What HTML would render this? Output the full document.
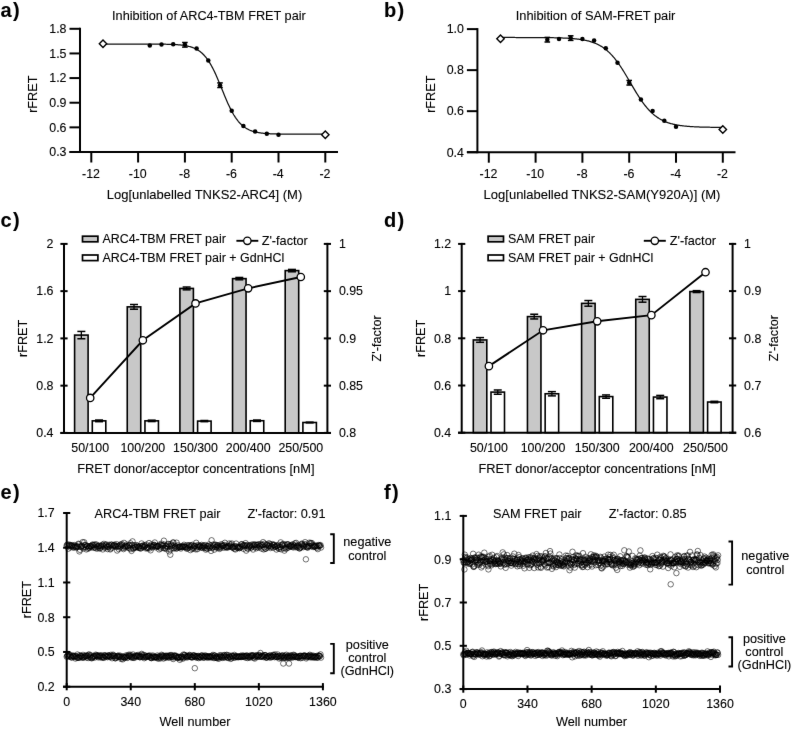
<!DOCTYPE html>
<html><head><meta charset="utf-8"><title>FRET figure</title>
<style>
html,body{margin:0;padding:0;background:#fff;}
body{width:792px;height:730px;overflow:hidden;}
svg{display:block;will-change:transform;font-family:"Liberation Sans",sans-serif;fill:#000;}
svg text{fill:#000;stroke:#000;stroke-width:0.1px;}
</style></head>
<body>
<svg width="792" height="730" viewBox="0 0 792 730">
<defs><filter id="bl" color-interpolation-filters="sRGB" x="0" y="0" width="792" height="730" filterUnits="userSpaceOnUse"><feConvolveMatrix order="3" kernelMatrix="0.0028 0.0470 0.0028 0.0470 0.8008 0.0470 0.0028 0.0470 0.0028" edgeMode="duplicate"/></filter></defs>
<g filter="url(#bl)">
<rect width="792" height="730" fill="#fff"/>
<text x="0.6" y="16.6" font-size="20" font-weight="bold" letter-spacing="1.3">a)</text>
<text x="384" y="16.6" font-size="20" font-weight="bold" letter-spacing="1.3">b)</text>
<text x="0.6" y="227.2" font-size="20" font-weight="bold" letter-spacing="1.3">c)</text>
<text x="384" y="227.2" font-size="20" font-weight="bold" letter-spacing="1.3">d)</text>
<text x="0.6" y="499.2" font-size="20" font-weight="bold" letter-spacing="1.3">e)</text>
<text x="384" y="499.2" font-size="20" font-weight="bold" letter-spacing="1.3">f)</text>
<line x1="80" y1="27.8" x2="80" y2="153" stroke="#000" stroke-width="2.0" />
<line x1="69.5" y1="28.8" x2="80" y2="28.8" stroke="#000" stroke-width="2.0" />
<text x="66.5" y="33.1" font-size="12.4" text-anchor="end" >1.8</text>
<line x1="69.5" y1="53.44" x2="80" y2="53.44" stroke="#000" stroke-width="2.0" />
<text x="66.5" y="57.74" font-size="12.4" text-anchor="end" >1.5</text>
<line x1="69.5" y1="78.08" x2="80" y2="78.08" stroke="#000" stroke-width="2.0" />
<text x="66.5" y="82.38" font-size="12.4" text-anchor="end" >1.2</text>
<line x1="69.5" y1="102.72" x2="80" y2="102.72" stroke="#000" stroke-width="2.0" />
<text x="66.5" y="107.02" font-size="12.4" text-anchor="end" >0.9</text>
<line x1="69.5" y1="127.36" x2="80" y2="127.36" stroke="#000" stroke-width="2.0" />
<text x="66.5" y="131.66" font-size="12.4" text-anchor="end" >0.6</text>
<line x1="69.5" y1="152" x2="80" y2="152" stroke="#000" stroke-width="2.0" />
<text x="66.5" y="156.3" font-size="12.4" text-anchor="end" >0.3</text>
<line x1="69.5" y1="152" x2="338" y2="152" stroke="#000" stroke-width="2.0" />
<line x1="91.3" y1="152" x2="91.3" y2="162.5" stroke="#000" stroke-width="2.0" />
<text x="91" y="177.8" font-size="12.4" text-anchor="middle" >-12</text>
<line x1="138.1" y1="152" x2="138.1" y2="162.5" stroke="#000" stroke-width="2.0" />
<text x="137.8" y="177.8" font-size="12.4" text-anchor="middle" >-10</text>
<line x1="184.9" y1="152" x2="184.9" y2="162.5" stroke="#000" stroke-width="2.0" />
<text x="184.6" y="177.8" font-size="12.4" text-anchor="middle" >-8</text>
<line x1="231.7" y1="152" x2="231.7" y2="162.5" stroke="#000" stroke-width="2.0" />
<text x="231.4" y="177.8" font-size="12.4" text-anchor="middle" >-6</text>
<line x1="278.5" y1="152" x2="278.5" y2="162.5" stroke="#000" stroke-width="2.0" />
<text x="278.2" y="177.8" font-size="12.4" text-anchor="middle" >-4</text>
<line x1="325.3" y1="152" x2="325.3" y2="162.5" stroke="#000" stroke-width="2.0" />
<text x="325" y="177.8" font-size="12.4" text-anchor="middle" >-2</text>
<text x="208.9" y="19.6" font-size="12.7" text-anchor="middle" >Inhibition of ARC4-TBM FRET pair</text>
<text x="204.5" y="198.6" font-size="13.0" text-anchor="middle" >Log[unlabelled TNKS2-ARC4] (M)</text>
<text transform="translate(36.8,94.2) rotate(-90)" font-size="12.7" text-anchor="middle">rFRET</text>
<polyline points="103.00,44.05 103.74,44.05 104.49,44.05 105.23,44.05 105.97,44.05 106.72,44.05 107.46,44.05 108.20,44.05 108.95,44.05 109.69,44.05 110.43,44.05 111.18,44.05 111.92,44.05 112.67,44.05 113.41,44.05 114.15,44.05 114.90,44.05 115.64,44.05 116.38,44.05 117.13,44.05 117.87,44.05 118.61,44.05 119.36,44.05 120.10,44.05 120.84,44.05 121.59,44.05 122.33,44.05 123.07,44.05 123.82,44.05 124.56,44.05 125.30,44.05 126.05,44.05 126.79,44.05 127.53,44.05 128.28,44.05 129.02,44.05 129.77,44.05 130.51,44.05 131.25,44.05 132.00,44.05 132.74,44.05 133.48,44.05 134.23,44.06 134.97,44.06 135.71,44.06 136.46,44.06 137.20,44.06 137.94,44.06 138.69,44.06 139.43,44.06 140.17,44.06 140.92,44.06 141.66,44.06 142.40,44.06 143.15,44.07 143.89,44.07 144.63,44.07 145.38,44.07 146.12,44.07 146.87,44.07 147.61,44.08 148.35,44.08 149.10,44.08 149.84,44.08 150.58,44.09 151.33,44.09 152.07,44.09 152.81,44.10 153.56,44.10 154.30,44.10 155.04,44.11 155.79,44.11 156.53,44.12 157.27,44.13 158.02,44.13 158.76,44.14 159.50,44.15 160.25,44.15 160.99,44.16 161.73,44.17 162.48,44.18 163.22,44.20 163.97,44.21 164.71,44.22 165.45,44.24 166.20,44.25 166.94,44.27 167.68,44.29 168.43,44.31 169.17,44.33 169.91,44.35 170.66,44.38 171.40,44.41 172.14,44.44 172.89,44.47 173.63,44.50 174.37,44.54 175.12,44.58 175.86,44.63 176.60,44.68 177.35,44.73 178.09,44.79 178.83,44.85 179.58,44.92 180.32,44.99 181.07,45.07 181.81,45.15 182.55,45.24 183.30,45.34 184.04,45.45 184.78,45.57 185.53,45.70 186.27,45.83 187.01,45.98 187.76,46.14 188.50,46.31 189.24,46.50 189.99,46.70 190.73,46.92 191.47,47.16 192.22,47.41 192.96,47.68 193.70,47.98 194.45,48.29 195.19,48.64 195.93,49.00 196.68,49.40 197.42,49.82 198.17,50.28 198.91,50.77 199.65,51.29 200.40,51.85 201.14,52.45 201.88,53.09 202.63,53.78 203.37,54.51 204.11,55.28 204.86,56.11 205.60,56.98 206.34,57.91 207.09,58.89 207.83,59.93 208.57,61.02 209.32,62.17 210.06,63.38 210.80,64.64 211.55,65.96 212.29,67.34 213.03,68.77 213.78,70.26 214.52,71.80 215.27,73.39 216.01,75.02 216.75,76.69 217.50,78.41 218.24,80.15 218.98,81.93 219.73,83.73 220.47,85.54 221.21,87.37 221.96,89.20 222.70,91.04 223.44,92.86 224.19,94.68 224.93,96.48 225.67,98.25 226.42,99.99 227.16,101.70 227.90,103.38 228.65,105.01 229.39,106.59 230.13,108.12 230.88,109.61 231.62,111.04 232.37,112.41 233.11,113.73 233.85,114.99 234.60,116.19 235.34,117.34 236.08,118.42 236.83,119.46 237.57,120.44 238.31,121.36 239.06,122.23 239.80,123.05 240.54,123.82 241.29,124.55 242.03,125.23 242.77,125.87 243.52,126.47 244.26,127.02 245.00,127.55 245.75,128.03 246.49,128.48 247.23,128.91 247.98,129.30 248.72,129.67 249.47,130.01 250.21,130.32 250.95,130.61 251.70,130.89 252.44,131.14 253.18,131.37 253.93,131.59 254.67,131.79 255.41,131.97 256.16,132.15 256.90,132.31 257.64,132.45 258.39,132.59 259.13,132.71 259.87,132.83 260.62,132.94 261.36,133.04 262.10,133.13 262.85,133.21 263.59,133.29 264.33,133.36 265.08,133.43 265.82,133.49 266.57,133.55 267.31,133.60 268.05,133.65 268.80,133.70 269.54,133.74 270.28,133.78 271.03,133.81 271.77,133.84 272.51,133.87 273.26,133.90 274.00,133.93 274.74,133.95 275.49,133.97 276.23,133.99 276.97,134.01 277.72,134.03 278.46,134.04 279.20,134.06 279.95,134.07 280.69,134.08 281.43,134.09 282.18,134.10 282.92,134.11 283.67,134.12 284.41,134.13 285.15,134.14 285.90,134.14 286.64,134.15 287.38,134.16 288.13,134.16 288.87,134.17 289.61,134.17 290.36,134.18 291.10,134.18 291.84,134.18 292.59,134.19 293.33,134.19 294.07,134.19 294.82,134.20 295.56,134.20 296.30,134.20 297.05,134.20 297.79,134.20 298.53,134.21 299.28,134.21 300.02,134.21 300.77,134.21 301.51,134.21 302.25,134.21 303.00,134.21 303.74,134.21 304.48,134.22 305.23,134.22 305.97,134.22 306.71,134.22 307.46,134.22 308.20,134.22 308.94,134.22 309.69,134.22 310.43,134.22 311.17,134.22 311.92,134.22 312.66,134.22 313.40,134.22 314.15,134.22 314.89,134.22 315.63,134.22 316.38,134.22 317.12,134.22 317.87,134.22 318.61,134.22 319.35,134.22 320.10,134.22 320.84,134.22 321.58,134.22 322.33,134.22 323.07,134.23 323.81,134.23 324.56,134.23 325.30,134.23" fill="none" stroke="#111" stroke-width="1.25"/>
<circle cx="149.8" cy="45.4" r="2.25" fill="#000"/>
<circle cx="161.5" cy="44.6" r="2.25" fill="#000"/>
<circle cx="173.2" cy="44.2" r="2.25" fill="#000"/>
<circle cx="184.9" cy="44.8" r="2.25" fill="#000"/>
<line x1="184.9" y1="42.5" x2="184.9" y2="47.1" stroke="#000" stroke-width="1.3" />
<line x1="182.1" y1="42.5" x2="187.7" y2="42.5" stroke="#000" stroke-width="1.5" />
<line x1="182.1" y1="47.1" x2="187.7" y2="47.1" stroke="#000" stroke-width="1.5" />
<circle cx="196.6" cy="48.4" r="2.25" fill="#000"/>
<circle cx="208.3" cy="60.5" r="2.25" fill="#000"/>
<circle cx="220" cy="85.2" r="2.25" fill="#000"/>
<line x1="220" y1="82.9" x2="220" y2="87.5" stroke="#000" stroke-width="1.3" />
<line x1="217.2" y1="82.9" x2="222.8" y2="82.9" stroke="#000" stroke-width="1.5" />
<line x1="217.2" y1="87.5" x2="222.8" y2="87.5" stroke="#000" stroke-width="1.5" />
<circle cx="231.7" cy="110.8" r="2.25" fill="#000"/>
<circle cx="243.4" cy="125.9" r="2.25" fill="#000"/>
<circle cx="255.1" cy="131.6" r="2.25" fill="#000"/>
<circle cx="266.8" cy="133.65" r="2.25" fill="#000"/>
<circle cx="278.5" cy="134.7" r="2.25" fill="#000"/>
<path d="M99.3,43.8 L103,40.1 L106.7,43.8 L103,47.5 Z" fill="#fff" stroke="#000" stroke-width="1.4"/>
<path d="M321.6,134.8 L325.3,131.1 L329,134.8 L325.3,138.5 Z" fill="#fff" stroke="#000" stroke-width="1.4"/>
<line x1="477.4" y1="28.1" x2="477.4" y2="153.2" stroke="#000" stroke-width="2.0" />
<line x1="466.9" y1="29.11" x2="477.4" y2="29.11" stroke="#000" stroke-width="2.0" />
<text x="463.9" y="33.41" font-size="12.4" text-anchor="end" >1.0</text>
<line x1="466.9" y1="70.14" x2="477.4" y2="70.14" stroke="#000" stroke-width="2.0" />
<text x="463.9" y="74.44" font-size="12.4" text-anchor="end" >0.8</text>
<line x1="466.9" y1="111.17" x2="477.4" y2="111.17" stroke="#000" stroke-width="2.0" />
<text x="463.9" y="115.47" font-size="12.4" text-anchor="end" >0.6</text>
<line x1="466.9" y1="152.2" x2="477.4" y2="152.2" stroke="#000" stroke-width="2.0" />
<text x="463.9" y="156.5" font-size="12.4" text-anchor="end" >0.4</text>
<line x1="466.9" y1="152.2" x2="735.5" y2="152.2" stroke="#000" stroke-width="2.0" />
<line x1="488.8" y1="152.2" x2="488.8" y2="162.7" stroke="#000" stroke-width="2.0" />
<text x="488.5" y="178" font-size="12.4" text-anchor="middle" >-12</text>
<line x1="535.6" y1="152.2" x2="535.6" y2="162.7" stroke="#000" stroke-width="2.0" />
<text x="535.3" y="178" font-size="12.4" text-anchor="middle" >-10</text>
<line x1="582.4" y1="152.2" x2="582.4" y2="162.7" stroke="#000" stroke-width="2.0" />
<text x="582.1" y="178" font-size="12.4" text-anchor="middle" >-8</text>
<line x1="629.2" y1="152.2" x2="629.2" y2="162.7" stroke="#000" stroke-width="2.0" />
<text x="628.9" y="178" font-size="12.4" text-anchor="middle" >-6</text>
<line x1="676" y1="152.2" x2="676" y2="162.7" stroke="#000" stroke-width="2.0" />
<text x="675.7" y="178" font-size="12.4" text-anchor="middle" >-4</text>
<line x1="722.8" y1="152.2" x2="722.8" y2="162.7" stroke="#000" stroke-width="2.0" />
<text x="722.5" y="178" font-size="12.4" text-anchor="middle" >-2</text>
<text x="595.5" y="19.6" font-size="12.85" text-anchor="middle" >Inhibition of SAM-FRET pair</text>
<text x="602" y="198.8" font-size="13.0" text-anchor="middle" >Log[unlabelled TNKS2-SAM(Y920A)] (M)</text>
<text transform="translate(435.2,94.2) rotate(-90)" font-size="12.7" text-anchor="middle">rFRET</text>
<polyline points="500.50,37.49 501.24,37.49 501.99,37.49 502.73,37.49 503.47,37.49 504.22,37.49 504.96,37.49 505.70,37.49 506.45,37.49 507.19,37.49 507.93,37.49 508.68,37.49 509.42,37.49 510.17,37.49 510.91,37.49 511.65,37.49 512.40,37.49 513.14,37.49 513.88,37.49 514.63,37.49 515.37,37.50 516.11,37.50 516.86,37.50 517.60,37.50 518.34,37.50 519.09,37.50 519.83,37.50 520.57,37.50 521.32,37.50 522.06,37.50 522.80,37.51 523.55,37.51 524.29,37.51 525.03,37.51 525.78,37.51 526.52,37.51 527.27,37.52 528.01,37.52 528.75,37.52 529.50,37.52 530.24,37.53 530.98,37.53 531.73,37.53 532.47,37.53 533.21,37.54 533.96,37.54 534.70,37.54 535.44,37.55 536.19,37.55 536.93,37.55 537.67,37.56 538.42,37.56 539.16,37.57 539.90,37.57 540.65,37.58 541.39,37.58 542.13,37.59 542.88,37.60 543.62,37.60 544.37,37.61 545.11,37.62 545.85,37.62 546.60,37.63 547.34,37.64 548.08,37.65 548.83,37.66 549.57,37.67 550.31,37.68 551.06,37.69 551.80,37.71 552.54,37.72 553.29,37.73 554.03,37.75 554.77,37.76 555.52,37.78 556.26,37.80 557.00,37.82 557.75,37.84 558.49,37.86 559.23,37.88 559.98,37.90 560.72,37.93 561.47,37.95 562.21,37.98 562.95,38.01 563.70,38.04 564.44,38.07 565.18,38.10 565.93,38.14 566.67,38.18 567.41,38.22 568.16,38.26 568.90,38.31 569.64,38.35 570.39,38.40 571.13,38.46 571.87,38.51 572.62,38.57 573.36,38.64 574.10,38.70 574.85,38.77 575.59,38.85 576.33,38.93 577.08,39.01 577.82,39.10 578.57,39.19 579.31,39.29 580.05,39.39 580.80,39.50 581.54,39.61 582.28,39.73 583.03,39.86 583.77,40.00 584.51,40.14 585.26,40.29 586.00,40.45 586.74,40.62 587.49,40.79 588.23,40.98 588.97,41.17 589.72,41.38 590.46,41.60 591.20,41.83 591.95,42.07 592.69,42.32 593.43,42.59 594.18,42.87 594.92,43.16 595.67,43.47 596.41,43.80 597.15,44.14 597.90,44.50 598.64,44.87 599.38,45.27 600.13,45.68 600.87,46.11 601.61,46.57 602.36,47.04 603.10,47.53 603.84,48.05 604.59,48.59 605.33,49.16 606.07,49.75 606.82,50.36 607.56,51.00 608.30,51.66 609.05,52.36 609.79,53.07 610.53,53.82 611.28,54.59 612.02,55.39 612.77,56.22 613.51,57.08 614.25,57.96 615.00,58.87 615.74,59.81 616.48,60.78 617.23,61.77 617.97,62.79 618.71,63.83 619.46,64.90 620.20,65.99 620.94,67.11 621.69,68.25 622.43,69.41 623.17,70.59 623.92,71.78 624.66,72.99 625.40,74.22 626.15,75.46 626.89,76.71 627.63,77.97 628.38,79.24 629.12,80.51 629.87,81.79 630.61,83.06 631.35,84.34 632.10,85.61 632.84,86.88 633.58,88.14 634.33,89.39 635.07,90.63 635.81,91.86 636.56,93.07 637.30,94.27 638.04,95.45 638.79,96.61 639.53,97.75 640.27,98.86 641.02,99.96 641.76,101.03 642.50,102.08 643.25,103.10 643.99,104.09 644.73,105.06 645.48,106.00 646.22,106.91 646.97,107.80 647.71,108.66 648.45,109.49 649.20,110.29 649.94,111.06 650.68,111.81 651.43,112.53 652.17,113.22 652.91,113.89 653.66,114.53 654.40,115.15 655.14,115.74 655.89,116.30 656.63,116.84 657.37,117.36 658.12,117.86 658.86,118.34 659.60,118.79 660.35,119.22 661.09,119.64 661.83,120.03 662.58,120.41 663.32,120.77 664.07,121.11 664.81,121.44 665.55,121.75 666.30,122.05 667.04,122.33 667.78,122.60 668.53,122.85 669.27,123.09 670.01,123.32 670.76,123.54 671.50,123.75 672.24,123.94 672.99,124.13 673.73,124.31 674.47,124.47 675.22,124.63 675.96,124.78 676.70,124.93 677.45,125.06 678.19,125.19 678.93,125.31 679.68,125.43 680.42,125.54 681.17,125.64 681.91,125.74 682.65,125.83 683.40,125.92 684.14,126.00 684.88,126.08 685.63,126.16 686.37,126.23 687.11,126.29 687.86,126.36 688.60,126.42 689.34,126.47 690.09,126.53 690.83,126.58 691.57,126.62 692.32,126.67 693.06,126.71 693.80,126.75 694.55,126.79 695.29,126.83 696.03,126.86 696.78,126.89 697.52,126.92 698.27,126.95 699.01,126.98 699.75,127.01 700.50,127.03 701.24,127.05 701.98,127.08 702.73,127.10 703.47,127.12 704.21,127.13 704.96,127.15 705.70,127.17 706.44,127.18 707.19,127.20 707.93,127.21 708.67,127.23 709.42,127.24 710.16,127.25 710.90,127.26 711.65,127.27 712.39,127.28 713.13,127.29 713.88,127.30 714.62,127.31 715.37,127.32 716.11,127.32 716.85,127.33 717.60,127.34 718.34,127.34 719.08,127.35 719.83,127.36 720.57,127.36 721.31,127.37 722.06,127.37 722.80,127.37" fill="none" stroke="#111" stroke-width="1.25"/>
<circle cx="547.3" cy="39.7" r="2.25" fill="#000"/>
<line x1="547.3" y1="37.4" x2="547.3" y2="42" stroke="#000" stroke-width="1.3" />
<line x1="544.5" y1="37.4" x2="550.1" y2="37.4" stroke="#000" stroke-width="1.5" />
<line x1="544.5" y1="42" x2="550.1" y2="42" stroke="#000" stroke-width="1.5" />
<circle cx="559" cy="39.1" r="2.25" fill="#000"/>
<circle cx="570.7" cy="38.1" r="2.25" fill="#000"/>
<line x1="570.7" y1="35.8" x2="570.7" y2="40.4" stroke="#000" stroke-width="1.3" />
<line x1="567.9" y1="35.8" x2="573.5" y2="35.8" stroke="#000" stroke-width="1.5" />
<line x1="567.9" y1="40.4" x2="573.5" y2="40.4" stroke="#000" stroke-width="1.5" />
<circle cx="582.4" cy="38.9" r="2.25" fill="#000"/>
<circle cx="594.1" cy="40.6" r="2.25" fill="#000"/>
<circle cx="605.8" cy="48.2" r="2.25" fill="#000"/>
<circle cx="617.5" cy="62.8" r="2.25" fill="#000"/>
<circle cx="629.2" cy="82.75" r="2.25" fill="#000"/>
<line x1="629.2" y1="80.45" x2="629.2" y2="85.05" stroke="#000" stroke-width="1.3" />
<line x1="626.4" y1="80.45" x2="632" y2="80.45" stroke="#000" stroke-width="1.5" />
<line x1="626.4" y1="85.05" x2="632" y2="85.05" stroke="#000" stroke-width="1.5" />
<circle cx="640.9" cy="99.6" r="2.25" fill="#000"/>
<circle cx="652.6" cy="110.9" r="2.25" fill="#000"/>
<circle cx="664.3" cy="120.8" r="2.25" fill="#000"/>
<circle cx="676" cy="126.8" r="2.25" fill="#000"/>
<path d="M496.8,38.8 L500.5,35.1 L504.2,38.8 L500.5,42.5 Z" fill="#fff" stroke="#000" stroke-width="1.4"/>
<path d="M719.1,129.5 L722.8,125.8 L726.5,129.5 L722.8,133.2 Z" fill="#fff" stroke="#000" stroke-width="1.4"/>
<rect x="74.6" y="335.09" width="13.5" height="97.81" fill="#c8c8c8" stroke="#000" stroke-width="1.6"/>
<line x1="81.35" y1="331.43" x2="81.35" y2="338.75" stroke="#000" stroke-width="1.3" />
<line x1="77.35" y1="331.43" x2="85.35" y2="331.43" stroke="#000" stroke-width="1.5" />
<line x1="77.35" y1="338.75" x2="85.35" y2="338.75" stroke="#000" stroke-width="1.5" />
<rect x="92.3" y="420.85" width="13.5" height="12.05" fill="#fff" stroke="#000" stroke-width="1.6"/>
<line x1="99.05" y1="420.02" x2="99.05" y2="421.68" stroke="#000" stroke-width="1.3" />
<line x1="95.05" y1="420.02" x2="103.05" y2="420.02" stroke="#000" stroke-width="1.5" />
<line x1="95.05" y1="421.68" x2="103.05" y2="421.68" stroke="#000" stroke-width="1.5" />
<text x="90.2" y="451.9" font-size="12.4" text-anchor="middle" >50/100</text>
<rect x="127.25" y="306.86" width="13.5" height="126.04" fill="#c8c8c8" stroke="#000" stroke-width="1.6"/>
<line x1="134" y1="304.5" x2="134" y2="309.22" stroke="#000" stroke-width="1.3" />
<line x1="130" y1="304.5" x2="138" y2="304.5" stroke="#000" stroke-width="1.5" />
<line x1="130" y1="309.22" x2="138" y2="309.22" stroke="#000" stroke-width="1.5" />
<rect x="144.95" y="420.85" width="13.5" height="12.05" fill="#fff" stroke="#000" stroke-width="1.6"/>
<line x1="151.7" y1="420.14" x2="151.7" y2="421.56" stroke="#000" stroke-width="1.3" />
<line x1="147.7" y1="420.14" x2="155.7" y2="420.14" stroke="#000" stroke-width="1.5" />
<line x1="147.7" y1="421.56" x2="155.7" y2="421.56" stroke="#000" stroke-width="1.5" />
<text x="142.85" y="451.9" font-size="12.4" text-anchor="middle" >100/200</text>
<rect x="179.9" y="288.43" width="13.5" height="144.47" fill="#c8c8c8" stroke="#000" stroke-width="1.6"/>
<line x1="186.65" y1="287.02" x2="186.65" y2="289.85" stroke="#000" stroke-width="1.3" />
<line x1="182.65" y1="287.02" x2="190.65" y2="287.02" stroke="#000" stroke-width="1.5" />
<line x1="182.65" y1="289.85" x2="190.65" y2="289.85" stroke="#000" stroke-width="1.5" />
<rect x="197.6" y="421.09" width="13.5" height="11.81" fill="#fff" stroke="#000" stroke-width="1.6"/>
<line x1="204.35" y1="420.5" x2="204.35" y2="421.68" stroke="#000" stroke-width="1.3" />
<line x1="200.35" y1="420.5" x2="208.35" y2="420.5" stroke="#000" stroke-width="1.5" />
<line x1="200.35" y1="421.68" x2="208.35" y2="421.68" stroke="#000" stroke-width="1.5" />
<text x="195.5" y="451.9" font-size="12.4" text-anchor="middle" >150/300</text>
<rect x="232.55" y="278.63" width="13.5" height="154.27" fill="#c8c8c8" stroke="#000" stroke-width="1.6"/>
<line x1="239.3" y1="277.45" x2="239.3" y2="279.81" stroke="#000" stroke-width="1.3" />
<line x1="235.3" y1="277.45" x2="243.3" y2="277.45" stroke="#000" stroke-width="1.5" />
<line x1="235.3" y1="279.81" x2="243.3" y2="279.81" stroke="#000" stroke-width="1.5" />
<rect x="250.25" y="420.73" width="13.5" height="12.17" fill="#fff" stroke="#000" stroke-width="1.6"/>
<line x1="257" y1="420.02" x2="257" y2="421.44" stroke="#000" stroke-width="1.3" />
<line x1="253" y1="420.02" x2="261" y2="420.02" stroke="#000" stroke-width="1.5" />
<line x1="253" y1="421.44" x2="261" y2="421.44" stroke="#000" stroke-width="1.5" />
<text x="248.15" y="451.9" font-size="12.4" text-anchor="middle" >200/400</text>
<rect x="285.2" y="270.6" width="13.5" height="162.3" fill="#c8c8c8" stroke="#000" stroke-width="1.6"/>
<line x1="291.95" y1="269.42" x2="291.95" y2="271.78" stroke="#000" stroke-width="1.3" />
<line x1="287.95" y1="269.42" x2="295.95" y2="269.42" stroke="#000" stroke-width="1.5" />
<line x1="287.95" y1="271.78" x2="295.95" y2="271.78" stroke="#000" stroke-width="1.5" />
<rect x="302.9" y="422.5" width="13.5" height="10.39" fill="#fff" stroke="#000" stroke-width="1.6"/>
<line x1="309.65" y1="422.15" x2="309.65" y2="422.86" stroke="#000" stroke-width="1.3" />
<line x1="305.65" y1="422.15" x2="313.65" y2="422.15" stroke="#000" stroke-width="1.5" />
<line x1="305.65" y1="422.86" x2="313.65" y2="422.86" stroke="#000" stroke-width="1.5" />
<text x="300.8" y="451.9" font-size="12.4" text-anchor="middle" >250/500</text>
<polyline points="90.20,397.94 142.85,340.29 195.50,303.43 248.15,288.32 300.80,276.98" fill="none" stroke="#000" stroke-width="1.9"/>
<circle cx="90.2" cy="397.94" r="3.7" fill="#fff" stroke="#000" stroke-width="1.3"/>
<circle cx="142.85" cy="340.29" r="3.7" fill="#fff" stroke="#000" stroke-width="1.3"/>
<circle cx="195.5" cy="303.43" r="3.7" fill="#fff" stroke="#000" stroke-width="1.3"/>
<circle cx="248.15" cy="288.32" r="3.7" fill="#fff" stroke="#000" stroke-width="1.3"/>
<circle cx="300.8" cy="276.98" r="3.7" fill="#fff" stroke="#000" stroke-width="1.3"/>
<line x1="64" y1="242.9" x2="64" y2="433.9" stroke="#000" stroke-width="2.0" />
<line x1="327.4" y1="242.9" x2="327.4" y2="433.9" stroke="#000" stroke-width="2.0" />
<line x1="60.4" y1="432.9" x2="331" y2="432.9" stroke="#000" stroke-width="2.0" />
<line x1="60.4" y1="243.9" x2="67.6" y2="243.9" stroke="#000" stroke-width="2.0" />
<text x="53.5" y="248.2" font-size="12.4" text-anchor="end" >2</text>
<line x1="60.4" y1="291.15" x2="67.6" y2="291.15" stroke="#000" stroke-width="2.0" />
<text x="53.5" y="295.45" font-size="12.4" text-anchor="end" >1.6</text>
<line x1="60.4" y1="338.4" x2="67.6" y2="338.4" stroke="#000" stroke-width="2.0" />
<text x="53.5" y="342.7" font-size="12.4" text-anchor="end" >1.2</text>
<line x1="60.4" y1="385.65" x2="67.6" y2="385.65" stroke="#000" stroke-width="2.0" />
<text x="53.5" y="389.95" font-size="12.4" text-anchor="end" >0.8</text>
<line x1="60.4" y1="432.9" x2="67.6" y2="432.9" stroke="#000" stroke-width="2.0" />
<text x="53.5" y="437.2" font-size="12.4" text-anchor="end" >0.4</text>
<line x1="323.8" y1="243.9" x2="331" y2="243.9" stroke="#000" stroke-width="2.0" />
<text x="338.9" y="248.2" font-size="12.4" text-anchor="start" >1</text>
<line x1="323.8" y1="291.15" x2="331" y2="291.15" stroke="#000" stroke-width="2.0" />
<text x="338.9" y="295.45" font-size="12.4" text-anchor="start" >0.95</text>
<line x1="323.8" y1="338.4" x2="331" y2="338.4" stroke="#000" stroke-width="2.0" />
<text x="338.9" y="342.7" font-size="12.4" text-anchor="start" >0.9</text>
<line x1="323.8" y1="385.65" x2="331" y2="385.65" stroke="#000" stroke-width="2.0" />
<text x="338.9" y="389.95" font-size="12.4" text-anchor="start" >0.85</text>
<line x1="323.8" y1="432.9" x2="331" y2="432.9" stroke="#000" stroke-width="2.0" />
<text x="338.9" y="437.2" font-size="12.4" text-anchor="start" >0.8</text>
<text x="195.8" y="473" font-size="12.8" text-anchor="middle" >FRET donor/acceptor concentrations [nM]</text>
<rect x="82.5" y="236.2" width="15.4" height="5.6" fill="#c8c8c8" stroke="#000" stroke-width="1.7"/>
<rect x="82.5" y="255.0" width="15.4" height="5.6" fill="#fff" stroke="#000" stroke-width="1.7"/>
<text x="102.4" y="243.4" font-size="12.45" text-anchor="start" >ARC4-TBM FRET pair</text>
<text x="102.4" y="262.3" font-size="12.45" text-anchor="start" >ARC4-TBM FRET pair + GdnHCl</text>
<line x1="236.4" y1="240.8" x2="258.3" y2="240.8" stroke="#000" stroke-width="1.9" />
<circle cx="247.35" cy="240.8" r="3.7" fill="#fff" stroke="#000" stroke-width="1.3"/>
<text x="261.7" y="245.2" font-size="12.7" text-anchor="start" >Z'-factor</text>
<text transform="translate(27.2,338.4) rotate(-90)" font-size="12.7" text-anchor="middle">rFRET</text>
<text transform="translate(381.3,338.4) rotate(-90)" font-size="12.7" text-anchor="middle">Z'-factor</text>
<rect x="473.3" y="339.95" width="13.5" height="92.75" fill="#c8c8c8" stroke="#000" stroke-width="1.6"/>
<line x1="480.05" y1="337.59" x2="480.05" y2="342.31" stroke="#000" stroke-width="1.3" />
<line x1="476.05" y1="337.59" x2="484.05" y2="337.59" stroke="#000" stroke-width="1.5" />
<line x1="476.05" y1="342.31" x2="484.05" y2="342.31" stroke="#000" stroke-width="1.5" />
<rect x="491" y="392.11" width="13.5" height="40.59" fill="#fff" stroke="#000" stroke-width="1.6"/>
<line x1="497.75" y1="389.98" x2="497.75" y2="394.23" stroke="#000" stroke-width="1.3" />
<line x1="493.75" y1="389.98" x2="501.75" y2="389.98" stroke="#000" stroke-width="1.5" />
<line x1="493.75" y1="394.23" x2="501.75" y2="394.23" stroke="#000" stroke-width="1.5" />
<text x="488.9" y="451.7" font-size="12.4" text-anchor="middle" >50/100</text>
<rect x="527.45" y="316.59" width="13.5" height="116.11" fill="#c8c8c8" stroke="#000" stroke-width="1.6"/>
<line x1="534.2" y1="314.23" x2="534.2" y2="318.95" stroke="#000" stroke-width="1.3" />
<line x1="530.2" y1="314.23" x2="538.2" y2="314.23" stroke="#000" stroke-width="1.5" />
<line x1="530.2" y1="318.95" x2="538.2" y2="318.95" stroke="#000" stroke-width="1.5" />
<rect x="545.15" y="393.76" width="13.5" height="38.94" fill="#fff" stroke="#000" stroke-width="1.6"/>
<line x1="551.9" y1="391.64" x2="551.9" y2="395.88" stroke="#000" stroke-width="1.3" />
<line x1="547.9" y1="391.64" x2="555.9" y2="391.64" stroke="#000" stroke-width="1.5" />
<line x1="547.9" y1="395.88" x2="555.9" y2="395.88" stroke="#000" stroke-width="1.5" />
<text x="543.05" y="451.7" font-size="12.4" text-anchor="middle" >100/200</text>
<rect x="581.6" y="303.37" width="13.5" height="129.33" fill="#c8c8c8" stroke="#000" stroke-width="1.6"/>
<line x1="588.35" y1="300.54" x2="588.35" y2="306.2" stroke="#000" stroke-width="1.3" />
<line x1="584.35" y1="300.54" x2="592.35" y2="300.54" stroke="#000" stroke-width="1.5" />
<line x1="584.35" y1="306.2" x2="592.35" y2="306.2" stroke="#000" stroke-width="1.5" />
<rect x="599.3" y="396.59" width="13.5" height="36.11" fill="#fff" stroke="#000" stroke-width="1.6"/>
<line x1="606.05" y1="394.94" x2="606.05" y2="398.24" stroke="#000" stroke-width="1.3" />
<line x1="602.05" y1="394.94" x2="610.05" y2="394.94" stroke="#000" stroke-width="1.5" />
<line x1="602.05" y1="398.24" x2="610.05" y2="398.24" stroke="#000" stroke-width="1.5" />
<text x="597.2" y="451.7" font-size="12.4" text-anchor="middle" >150/300</text>
<rect x="635.75" y="299.36" width="13.5" height="133.34" fill="#c8c8c8" stroke="#000" stroke-width="1.6"/>
<line x1="642.5" y1="296.53" x2="642.5" y2="302.19" stroke="#000" stroke-width="1.3" />
<line x1="638.5" y1="296.53" x2="646.5" y2="296.53" stroke="#000" stroke-width="1.5" />
<line x1="638.5" y1="302.19" x2="646.5" y2="302.19" stroke="#000" stroke-width="1.5" />
<rect x="653.45" y="397.06" width="13.5" height="35.64" fill="#fff" stroke="#000" stroke-width="1.6"/>
<line x1="660.2" y1="395.41" x2="660.2" y2="398.72" stroke="#000" stroke-width="1.3" />
<line x1="656.2" y1="395.41" x2="664.2" y2="395.41" stroke="#000" stroke-width="1.5" />
<line x1="656.2" y1="398.72" x2="664.2" y2="398.72" stroke="#000" stroke-width="1.5" />
<text x="651.35" y="451.7" font-size="12.4" text-anchor="middle" >200/400</text>
<rect x="689.9" y="291.57" width="13.5" height="141.13" fill="#c8c8c8" stroke="#000" stroke-width="1.6"/>
<line x1="696.65" y1="290.63" x2="696.65" y2="292.52" stroke="#000" stroke-width="1.3" />
<line x1="692.65" y1="290.63" x2="700.65" y2="290.63" stroke="#000" stroke-width="1.5" />
<line x1="692.65" y1="292.52" x2="700.65" y2="292.52" stroke="#000" stroke-width="1.5" />
<rect x="707.6" y="402.02" width="13.5" height="30.68" fill="#fff" stroke="#000" stroke-width="1.6"/>
<line x1="714.35" y1="401.31" x2="714.35" y2="402.73" stroke="#000" stroke-width="1.3" />
<line x1="710.35" y1="401.31" x2="718.35" y2="401.31" stroke="#000" stroke-width="1.5" />
<line x1="710.35" y1="402.73" x2="718.35" y2="402.73" stroke="#000" stroke-width="1.5" />
<text x="705.5" y="451.7" font-size="12.4" text-anchor="middle" >250/500</text>
<polyline points="488.90,366.15 543.05,330.28 597.20,321.31 651.35,315.17 705.50,272.22" fill="none" stroke="#000" stroke-width="1.9"/>
<circle cx="488.9" cy="366.15" r="3.7" fill="#fff" stroke="#000" stroke-width="1.3"/>
<circle cx="543.05" cy="330.28" r="3.7" fill="#fff" stroke="#000" stroke-width="1.3"/>
<circle cx="597.2" cy="321.31" r="3.7" fill="#fff" stroke="#000" stroke-width="1.3"/>
<circle cx="651.35" cy="315.17" r="3.7" fill="#fff" stroke="#000" stroke-width="1.3"/>
<circle cx="705.5" cy="272.22" r="3.7" fill="#fff" stroke="#000" stroke-width="1.3"/>
<line x1="461.7" y1="242.9" x2="461.7" y2="433.7" stroke="#000" stroke-width="2.0" />
<line x1="732.6" y1="242.9" x2="732.6" y2="433.7" stroke="#000" stroke-width="2.0" />
<line x1="458.1" y1="432.7" x2="736.2" y2="432.7" stroke="#000" stroke-width="2.0" />
<line x1="458.1" y1="243.9" x2="465.3" y2="243.9" stroke="#000" stroke-width="2.0" />
<text x="451.2" y="248.2" font-size="12.4" text-anchor="end" >1.2</text>
<line x1="458.1" y1="291.1" x2="465.3" y2="291.1" stroke="#000" stroke-width="2.0" />
<text x="451.2" y="295.4" font-size="12.4" text-anchor="end" >1</text>
<line x1="458.1" y1="338.3" x2="465.3" y2="338.3" stroke="#000" stroke-width="2.0" />
<text x="451.2" y="342.6" font-size="12.4" text-anchor="end" >0.8</text>
<line x1="458.1" y1="385.5" x2="465.3" y2="385.5" stroke="#000" stroke-width="2.0" />
<text x="451.2" y="389.8" font-size="12.4" text-anchor="end" >0.6</text>
<line x1="458.1" y1="432.7" x2="465.3" y2="432.7" stroke="#000" stroke-width="2.0" />
<text x="451.2" y="437" font-size="12.4" text-anchor="end" >0.4</text>
<line x1="729" y1="243.9" x2="736.2" y2="243.9" stroke="#000" stroke-width="2.0" />
<text x="744.1" y="248.2" font-size="12.4" text-anchor="start" >1</text>
<line x1="729" y1="291.1" x2="736.2" y2="291.1" stroke="#000" stroke-width="2.0" />
<text x="744.1" y="295.4" font-size="12.4" text-anchor="start" >0.9</text>
<line x1="729" y1="338.3" x2="736.2" y2="338.3" stroke="#000" stroke-width="2.0" />
<text x="744.1" y="342.6" font-size="12.4" text-anchor="start" >0.8</text>
<line x1="729" y1="385.5" x2="736.2" y2="385.5" stroke="#000" stroke-width="2.0" />
<text x="744.1" y="389.8" font-size="12.4" text-anchor="start" >0.7</text>
<line x1="729" y1="432.7" x2="736.2" y2="432.7" stroke="#000" stroke-width="2.0" />
<text x="744.1" y="437" font-size="12.4" text-anchor="start" >0.6</text>
<text x="597.2" y="472.8" font-size="12.8" text-anchor="middle" >FRET donor/acceptor concentrations [nM]</text>
<rect x="488.1" y="236.2" width="15.4" height="5.6" fill="#c8c8c8" stroke="#000" stroke-width="1.7"/>
<rect x="488.1" y="255.0" width="15.4" height="5.6" fill="#fff" stroke="#000" stroke-width="1.7"/>
<text x="508" y="243.4" font-size="12.45" text-anchor="start" >SAM FRET pair</text>
<text x="508" y="262.3" font-size="12.45" text-anchor="start" >SAM FRET pair + GdnHCl</text>
<line x1="643.8" y1="240.8" x2="665.8" y2="240.8" stroke="#000" stroke-width="1.9" />
<circle cx="654.8" cy="240.8" r="3.7" fill="#fff" stroke="#000" stroke-width="1.3"/>
<text x="669.8" y="245.2" font-size="12.7" text-anchor="start" >Z'-factor</text>
<text transform="translate(424.5,338.4) rotate(-90)" font-size="12.7" text-anchor="middle">rFRET</text>
<text transform="translate(778.3,338.1) rotate(-90)" font-size="12.7" text-anchor="middle">Z'-factor</text>
<g fill="none" stroke="#000" stroke-opacity="0.7" stroke-width="0.8">
<circle cx="66.7" cy="545.6" r="2.75"/>
<circle cx="67.2" cy="544.7" r="2.75"/>
<circle cx="67.8" cy="545.6" r="2.75"/>
<circle cx="68.3" cy="548.7" r="2.75"/>
<circle cx="68.8" cy="544.5" r="2.75"/>
<circle cx="69.4" cy="545.4" r="2.75"/>
<circle cx="69.9" cy="547.3" r="2.75"/>
<circle cx="70.4" cy="545.1" r="2.75"/>
<circle cx="70.9" cy="545.5" r="2.75"/>
<circle cx="71.5" cy="545.7" r="2.75"/>
<circle cx="72.0" cy="546.2" r="2.75"/>
<circle cx="72.5" cy="545.2" r="2.75"/>
<circle cx="73.1" cy="547.6" r="2.75"/>
<circle cx="73.6" cy="546.5" r="2.75"/>
<circle cx="74.1" cy="547.2" r="2.75"/>
<circle cx="74.7" cy="545.1" r="2.75"/>
<circle cx="75.2" cy="546.2" r="2.75"/>
<circle cx="75.7" cy="546.8" r="2.75"/>
<circle cx="76.3" cy="547.7" r="2.75"/>
<circle cx="76.8" cy="546.7" r="2.75"/>
<circle cx="77.3" cy="546.2" r="2.75"/>
<circle cx="77.8" cy="546.8" r="2.75"/>
<circle cx="78.4" cy="543.8" r="2.75"/>
<circle cx="78.9" cy="544.3" r="2.75"/>
<circle cx="79.4" cy="551.4" r="2.75"/>
<circle cx="80.0" cy="549.8" r="2.75"/>
<circle cx="80.5" cy="546.6" r="2.75"/>
<circle cx="81.0" cy="547.0" r="2.75"/>
<circle cx="81.6" cy="545.8" r="2.75"/>
<circle cx="82.1" cy="545.8" r="2.75"/>
<circle cx="82.6" cy="542.2" r="2.75"/>
<circle cx="83.2" cy="548.4" r="2.75"/>
<circle cx="83.7" cy="547.0" r="2.75"/>
<circle cx="84.2" cy="542.3" r="2.75"/>
<circle cx="84.8" cy="545.0" r="2.75"/>
<circle cx="85.3" cy="545.0" r="2.75"/>
<circle cx="85.8" cy="547.2" r="2.75"/>
<circle cx="86.3" cy="549.4" r="2.75"/>
<circle cx="86.9" cy="545.9" r="2.75"/>
<circle cx="87.4" cy="546.0" r="2.75"/>
<circle cx="87.9" cy="548.6" r="2.75"/>
<circle cx="88.5" cy="547.5" r="2.75"/>
<circle cx="89.0" cy="546.4" r="2.75"/>
<circle cx="89.5" cy="548.0" r="2.75"/>
<circle cx="90.1" cy="546.4" r="2.75"/>
<circle cx="90.6" cy="546.1" r="2.75"/>
<circle cx="91.1" cy="546.2" r="2.75"/>
<circle cx="91.7" cy="547.2" r="2.75"/>
<circle cx="92.2" cy="545.1" r="2.75"/>
<circle cx="92.7" cy="544.5" r="2.75"/>
<circle cx="93.2" cy="545.6" r="2.75"/>
<circle cx="93.8" cy="547.8" r="2.75"/>
<circle cx="94.3" cy="544.8" r="2.75"/>
<circle cx="94.8" cy="547.2" r="2.75"/>
<circle cx="95.4" cy="544.6" r="2.75"/>
<circle cx="95.9" cy="548.3" r="2.75"/>
<circle cx="96.4" cy="544.5" r="2.75"/>
<circle cx="97.0" cy="546.3" r="2.75"/>
<circle cx="97.5" cy="548.6" r="2.75"/>
<circle cx="98.0" cy="546.8" r="2.75"/>
<circle cx="98.6" cy="546.1" r="2.75"/>
<circle cx="99.1" cy="545.7" r="2.75"/>
<circle cx="99.6" cy="548.1" r="2.75"/>
<circle cx="100.1" cy="548.4" r="2.75"/>
<circle cx="100.7" cy="545.9" r="2.75"/>
<circle cx="101.2" cy="547.1" r="2.75"/>
<circle cx="101.7" cy="545.8" r="2.75"/>
<circle cx="102.3" cy="544.8" r="2.75"/>
<circle cx="102.8" cy="549.4" r="2.75"/>
<circle cx="103.3" cy="545.7" r="2.75"/>
<circle cx="103.9" cy="543.9" r="2.75"/>
<circle cx="104.4" cy="546.8" r="2.75"/>
<circle cx="104.9" cy="547.8" r="2.75"/>
<circle cx="105.5" cy="544.8" r="2.75"/>
<circle cx="106.0" cy="545.8" r="2.75"/>
<circle cx="106.5" cy="544.5" r="2.75"/>
<circle cx="107.1" cy="546.9" r="2.75"/>
<circle cx="107.6" cy="549.1" r="2.75"/>
<circle cx="108.1" cy="546.4" r="2.75"/>
<circle cx="108.6" cy="547.1" r="2.75"/>
<circle cx="109.2" cy="544.8" r="2.75"/>
<circle cx="109.7" cy="545.9" r="2.75"/>
<circle cx="110.2" cy="549.4" r="2.75"/>
<circle cx="110.8" cy="548.5" r="2.75"/>
<circle cx="111.3" cy="544.5" r="2.75"/>
<circle cx="111.8" cy="544.9" r="2.75"/>
<circle cx="112.4" cy="547.5" r="2.75"/>
<circle cx="112.9" cy="546.2" r="2.75"/>
<circle cx="113.4" cy="545.4" r="2.75"/>
<circle cx="114.0" cy="545.3" r="2.75"/>
<circle cx="114.5" cy="544.6" r="2.75"/>
<circle cx="115.0" cy="545.7" r="2.75"/>
<circle cx="115.5" cy="546.4" r="2.75"/>
<circle cx="116.1" cy="546.7" r="2.75"/>
<circle cx="116.6" cy="544.2" r="2.75"/>
<circle cx="117.1" cy="550.5" r="2.75"/>
<circle cx="117.7" cy="546.5" r="2.75"/>
<circle cx="118.2" cy="546.2" r="2.75"/>
<circle cx="118.7" cy="549.0" r="2.75"/>
<circle cx="119.3" cy="545.6" r="2.75"/>
<circle cx="119.8" cy="547.5" r="2.75"/>
<circle cx="120.3" cy="544.6" r="2.75"/>
<circle cx="120.9" cy="546.5" r="2.75"/>
<circle cx="121.4" cy="545.0" r="2.75"/>
<circle cx="121.9" cy="543.9" r="2.75"/>
<circle cx="122.4" cy="545.5" r="2.75"/>
<circle cx="123.0" cy="547.9" r="2.75"/>
<circle cx="123.5" cy="549.1" r="2.75"/>
<circle cx="124.0" cy="542.9" r="2.75"/>
<circle cx="124.6" cy="546.4" r="2.75"/>
<circle cx="125.1" cy="547.6" r="2.75"/>
<circle cx="125.6" cy="546.0" r="2.75"/>
<circle cx="126.2" cy="546.6" r="2.75"/>
<circle cx="126.7" cy="544.6" r="2.75"/>
<circle cx="127.2" cy="546.2" r="2.75"/>
<circle cx="127.8" cy="546.2" r="2.75"/>
<circle cx="128.3" cy="547.6" r="2.75"/>
<circle cx="128.8" cy="545.3" r="2.75"/>
<circle cx="129.3" cy="548.2" r="2.75"/>
<circle cx="129.9" cy="545.0" r="2.75"/>
<circle cx="130.4" cy="543.3" r="2.75"/>
<circle cx="130.9" cy="549.1" r="2.75"/>
<circle cx="131.5" cy="550.9" r="2.75"/>
<circle cx="132.0" cy="545.1" r="2.75"/>
<circle cx="132.5" cy="541.4" r="2.75"/>
<circle cx="133.1" cy="548.1" r="2.75"/>
<circle cx="133.6" cy="548.6" r="2.75"/>
<circle cx="134.1" cy="545.1" r="2.75"/>
<circle cx="134.7" cy="547.8" r="2.75"/>
<circle cx="135.2" cy="547.2" r="2.75"/>
<circle cx="135.7" cy="546.9" r="2.75"/>
<circle cx="136.3" cy="545.2" r="2.75"/>
<circle cx="136.8" cy="547.0" r="2.75"/>
<circle cx="137.3" cy="545.7" r="2.75"/>
<circle cx="137.8" cy="546.6" r="2.75"/>
<circle cx="138.4" cy="547.8" r="2.75"/>
<circle cx="138.9" cy="546.8" r="2.75"/>
<circle cx="139.4" cy="548.1" r="2.75"/>
<circle cx="140.0" cy="546.2" r="2.75"/>
<circle cx="140.5" cy="548.4" r="2.75"/>
<circle cx="141.0" cy="548.3" r="2.75"/>
<circle cx="141.6" cy="543.5" r="2.75"/>
<circle cx="142.1" cy="546.3" r="2.75"/>
<circle cx="142.6" cy="546.3" r="2.75"/>
<circle cx="143.2" cy="545.3" r="2.75"/>
<circle cx="143.7" cy="547.0" r="2.75"/>
<circle cx="144.2" cy="546.7" r="2.75"/>
<circle cx="144.7" cy="545.4" r="2.75"/>
<circle cx="145.3" cy="545.7" r="2.75"/>
<circle cx="145.8" cy="548.4" r="2.75"/>
<circle cx="146.3" cy="544.6" r="2.75"/>
<circle cx="146.9" cy="547.4" r="2.75"/>
<circle cx="147.4" cy="548.3" r="2.75"/>
<circle cx="147.9" cy="548.0" r="2.75"/>
<circle cx="148.5" cy="547.0" r="2.75"/>
<circle cx="149.0" cy="543.1" r="2.75"/>
<circle cx="149.5" cy="548.5" r="2.75"/>
<circle cx="150.1" cy="545.9" r="2.75"/>
<circle cx="150.6" cy="550.3" r="2.75"/>
<circle cx="151.1" cy="546.2" r="2.75"/>
<circle cx="151.6" cy="544.5" r="2.75"/>
<circle cx="152.2" cy="546.7" r="2.75"/>
<circle cx="152.7" cy="547.4" r="2.75"/>
<circle cx="153.2" cy="545.8" r="2.75"/>
<circle cx="153.8" cy="544.9" r="2.75"/>
<circle cx="154.3" cy="545.0" r="2.75"/>
<circle cx="154.8" cy="542.5" r="2.75"/>
<circle cx="155.4" cy="545.8" r="2.75"/>
<circle cx="155.9" cy="547.4" r="2.75"/>
<circle cx="156.4" cy="546.5" r="2.75"/>
<circle cx="157.0" cy="546.4" r="2.75"/>
<circle cx="157.5" cy="546.0" r="2.75"/>
<circle cx="158.0" cy="546.3" r="2.75"/>
<circle cx="158.6" cy="545.9" r="2.75"/>
<circle cx="159.1" cy="549.4" r="2.75"/>
<circle cx="159.6" cy="544.6" r="2.75"/>
<circle cx="160.1" cy="547.3" r="2.75"/>
<circle cx="160.7" cy="548.5" r="2.75"/>
<circle cx="161.2" cy="545.0" r="2.75"/>
<circle cx="161.7" cy="543.7" r="2.75"/>
<circle cx="162.3" cy="545.3" r="2.75"/>
<circle cx="162.8" cy="545.9" r="2.75"/>
<circle cx="163.3" cy="548.0" r="2.75"/>
<circle cx="163.9" cy="540.7" r="2.75"/>
<circle cx="164.4" cy="544.6" r="2.75"/>
<circle cx="164.9" cy="548.4" r="2.75"/>
<circle cx="165.5" cy="547.7" r="2.75"/>
<circle cx="166.0" cy="546.1" r="2.75"/>
<circle cx="166.5" cy="549.2" r="2.75"/>
<circle cx="167.0" cy="545.9" r="2.75"/>
<circle cx="167.6" cy="547.1" r="2.75"/>
<circle cx="168.1" cy="543.9" r="2.75"/>
<circle cx="168.6" cy="544.4" r="2.75"/>
<circle cx="169.2" cy="551.4" r="2.75"/>
<circle cx="169.7" cy="546.2" r="2.75"/>
<circle cx="170.2" cy="549.3" r="2.75"/>
<circle cx="170.8" cy="544.1" r="2.75"/>
<circle cx="171.3" cy="545.9" r="2.75"/>
<circle cx="171.8" cy="545.2" r="2.75"/>
<circle cx="172.4" cy="548.3" r="2.75"/>
<circle cx="172.9" cy="542.7" r="2.75"/>
<circle cx="173.4" cy="542.4" r="2.75"/>
<circle cx="173.9" cy="548.3" r="2.75"/>
<circle cx="174.5" cy="545.5" r="2.75"/>
<circle cx="175.0" cy="547.5" r="2.75"/>
<circle cx="175.5" cy="546.3" r="2.75"/>
<circle cx="176.1" cy="548.7" r="2.75"/>
<circle cx="176.6" cy="542.7" r="2.75"/>
<circle cx="177.1" cy="548.1" r="2.75"/>
<circle cx="177.7" cy="546.8" r="2.75"/>
<circle cx="178.2" cy="545.3" r="2.75"/>
<circle cx="178.7" cy="547.5" r="2.75"/>
<circle cx="179.3" cy="546.7" r="2.75"/>
<circle cx="179.8" cy="547.3" r="2.75"/>
<circle cx="180.3" cy="546.5" r="2.75"/>
<circle cx="180.9" cy="548.5" r="2.75"/>
<circle cx="181.4" cy="547.1" r="2.75"/>
<circle cx="181.9" cy="546.6" r="2.75"/>
<circle cx="182.4" cy="546.9" r="2.75"/>
<circle cx="183.0" cy="546.1" r="2.75"/>
<circle cx="183.5" cy="546.8" r="2.75"/>
<circle cx="184.0" cy="544.8" r="2.75"/>
<circle cx="184.6" cy="546.9" r="2.75"/>
<circle cx="185.1" cy="546.5" r="2.75"/>
<circle cx="185.6" cy="547.5" r="2.75"/>
<circle cx="186.2" cy="547.2" r="2.75"/>
<circle cx="186.7" cy="548.7" r="2.75"/>
<circle cx="187.2" cy="545.2" r="2.75"/>
<circle cx="187.8" cy="548.4" r="2.75"/>
<circle cx="188.3" cy="547.7" r="2.75"/>
<circle cx="188.8" cy="545.5" r="2.75"/>
<circle cx="189.3" cy="545.5" r="2.75"/>
<circle cx="189.9" cy="547.0" r="2.75"/>
<circle cx="190.4" cy="550.1" r="2.75"/>
<circle cx="190.9" cy="545.4" r="2.75"/>
<circle cx="191.5" cy="545.7" r="2.75"/>
<circle cx="192.0" cy="548.9" r="2.75"/>
<circle cx="192.5" cy="544.8" r="2.75"/>
<circle cx="193.1" cy="547.6" r="2.75"/>
<circle cx="193.6" cy="548.4" r="2.75"/>
<circle cx="194.1" cy="546.1" r="2.75"/>
<circle cx="194.7" cy="546.6" r="2.75"/>
<circle cx="195.2" cy="545.8" r="2.75"/>
<circle cx="195.7" cy="549.3" r="2.75"/>
<circle cx="196.2" cy="542.8" r="2.75"/>
<circle cx="196.8" cy="547.4" r="2.75"/>
<circle cx="197.3" cy="549.2" r="2.75"/>
<circle cx="197.8" cy="545.1" r="2.75"/>
<circle cx="198.4" cy="546.9" r="2.75"/>
<circle cx="198.9" cy="545.6" r="2.75"/>
<circle cx="199.4" cy="546.9" r="2.75"/>
<circle cx="200.0" cy="546.3" r="2.75"/>
<circle cx="200.5" cy="545.8" r="2.75"/>
<circle cx="201.0" cy="547.7" r="2.75"/>
<circle cx="201.6" cy="544.9" r="2.75"/>
<circle cx="202.1" cy="547.1" r="2.75"/>
<circle cx="202.6" cy="547.9" r="2.75"/>
<circle cx="203.1" cy="546.1" r="2.75"/>
<circle cx="203.7" cy="545.4" r="2.75"/>
<circle cx="204.2" cy="546.7" r="2.75"/>
<circle cx="204.7" cy="547.9" r="2.75"/>
<circle cx="205.3" cy="545.1" r="2.75"/>
<circle cx="205.8" cy="549.6" r="2.75"/>
<circle cx="206.3" cy="548.2" r="2.75"/>
<circle cx="206.9" cy="546.2" r="2.75"/>
<circle cx="207.4" cy="548.8" r="2.75"/>
<circle cx="207.9" cy="546.2" r="2.75"/>
<circle cx="208.5" cy="546.3" r="2.75"/>
<circle cx="209.0" cy="544.5" r="2.75"/>
<circle cx="209.5" cy="548.0" r="2.75"/>
<circle cx="210.1" cy="547.4" r="2.75"/>
<circle cx="210.6" cy="545.6" r="2.75"/>
<circle cx="211.1" cy="550.9" r="2.75"/>
<circle cx="211.6" cy="540.3" r="2.75"/>
<circle cx="212.2" cy="547.6" r="2.75"/>
<circle cx="212.7" cy="547.6" r="2.75"/>
<circle cx="213.2" cy="544.6" r="2.75"/>
<circle cx="213.8" cy="546.3" r="2.75"/>
<circle cx="214.3" cy="549.6" r="2.75"/>
<circle cx="214.8" cy="545.0" r="2.75"/>
<circle cx="215.4" cy="544.6" r="2.75"/>
<circle cx="215.9" cy="547.1" r="2.75"/>
<circle cx="216.4" cy="546.8" r="2.75"/>
<circle cx="217.0" cy="545.3" r="2.75"/>
<circle cx="217.5" cy="548.0" r="2.75"/>
<circle cx="218.0" cy="545.4" r="2.75"/>
<circle cx="218.5" cy="545.9" r="2.75"/>
<circle cx="219.1" cy="547.5" r="2.75"/>
<circle cx="219.6" cy="548.9" r="2.75"/>
<circle cx="220.1" cy="546.7" r="2.75"/>
<circle cx="220.7" cy="547.9" r="2.75"/>
<circle cx="221.2" cy="544.3" r="2.75"/>
<circle cx="221.7" cy="546.0" r="2.75"/>
<circle cx="222.3" cy="544.7" r="2.75"/>
<circle cx="222.8" cy="546.0" r="2.75"/>
<circle cx="223.3" cy="545.7" r="2.75"/>
<circle cx="223.9" cy="547.7" r="2.75"/>
<circle cx="224.4" cy="545.0" r="2.75"/>
<circle cx="224.9" cy="542.8" r="2.75"/>
<circle cx="225.4" cy="546.8" r="2.75"/>
<circle cx="226.0" cy="547.4" r="2.75"/>
<circle cx="226.5" cy="546.5" r="2.75"/>
<circle cx="227.0" cy="547.2" r="2.75"/>
<circle cx="227.6" cy="547.6" r="2.75"/>
<circle cx="228.1" cy="546.0" r="2.75"/>
<circle cx="228.6" cy="546.8" r="2.75"/>
<circle cx="229.2" cy="543.5" r="2.75"/>
<circle cx="229.7" cy="546.2" r="2.75"/>
<circle cx="230.2" cy="545.6" r="2.75"/>
<circle cx="230.8" cy="544.4" r="2.75"/>
<circle cx="231.3" cy="546.8" r="2.75"/>
<circle cx="231.8" cy="543.5" r="2.75"/>
<circle cx="232.4" cy="547.4" r="2.75"/>
<circle cx="232.9" cy="547.8" r="2.75"/>
<circle cx="233.4" cy="546.9" r="2.75"/>
<circle cx="233.9" cy="546.5" r="2.75"/>
<circle cx="234.5" cy="548.9" r="2.75"/>
<circle cx="235.0" cy="546.3" r="2.75"/>
<circle cx="235.5" cy="549.4" r="2.75"/>
<circle cx="236.1" cy="543.6" r="2.75"/>
<circle cx="236.6" cy="546.4" r="2.75"/>
<circle cx="237.1" cy="547.5" r="2.75"/>
<circle cx="237.7" cy="548.0" r="2.75"/>
<circle cx="238.2" cy="547.0" r="2.75"/>
<circle cx="238.7" cy="546.7" r="2.75"/>
<circle cx="239.3" cy="548.2" r="2.75"/>
<circle cx="239.8" cy="548.0" r="2.75"/>
<circle cx="240.3" cy="546.6" r="2.75"/>
<circle cx="240.8" cy="547.2" r="2.75"/>
<circle cx="241.4" cy="544.4" r="2.75"/>
<circle cx="241.9" cy="544.1" r="2.75"/>
<circle cx="242.4" cy="546.2" r="2.75"/>
<circle cx="243.0" cy="545.3" r="2.75"/>
<circle cx="243.5" cy="548.8" r="2.75"/>
<circle cx="244.0" cy="545.0" r="2.75"/>
<circle cx="244.6" cy="546.3" r="2.75"/>
<circle cx="245.1" cy="545.3" r="2.75"/>
<circle cx="245.6" cy="543.2" r="2.75"/>
<circle cx="246.2" cy="550.6" r="2.75"/>
<circle cx="246.7" cy="545.7" r="2.75"/>
<circle cx="247.2" cy="548.3" r="2.75"/>
<circle cx="247.7" cy="545.1" r="2.75"/>
<circle cx="248.3" cy="548.7" r="2.75"/>
<circle cx="248.8" cy="547.2" r="2.75"/>
<circle cx="249.3" cy="545.8" r="2.75"/>
<circle cx="249.9" cy="545.1" r="2.75"/>
<circle cx="250.4" cy="546.1" r="2.75"/>
<circle cx="250.9" cy="547.7" r="2.75"/>
<circle cx="251.5" cy="547.3" r="2.75"/>
<circle cx="252.0" cy="544.5" r="2.75"/>
<circle cx="252.5" cy="546.2" r="2.75"/>
<circle cx="253.1" cy="549.5" r="2.75"/>
<circle cx="253.6" cy="544.6" r="2.75"/>
<circle cx="254.1" cy="545.4" r="2.75"/>
<circle cx="254.6" cy="544.6" r="2.75"/>
<circle cx="255.2" cy="546.9" r="2.75"/>
<circle cx="255.7" cy="544.7" r="2.75"/>
<circle cx="256.2" cy="548.3" r="2.75"/>
<circle cx="256.8" cy="545.1" r="2.75"/>
<circle cx="257.3" cy="547.2" r="2.75"/>
<circle cx="257.8" cy="544.9" r="2.75"/>
<circle cx="258.4" cy="544.3" r="2.75"/>
<circle cx="258.9" cy="547.6" r="2.75"/>
<circle cx="259.4" cy="546.3" r="2.75"/>
<circle cx="260.0" cy="546.2" r="2.75"/>
<circle cx="260.5" cy="544.0" r="2.75"/>
<circle cx="261.0" cy="544.9" r="2.75"/>
<circle cx="261.6" cy="548.6" r="2.75"/>
<circle cx="262.1" cy="545.4" r="2.75"/>
<circle cx="262.6" cy="544.8" r="2.75"/>
<circle cx="263.1" cy="542.2" r="2.75"/>
<circle cx="263.7" cy="549.4" r="2.75"/>
<circle cx="264.2" cy="547.3" r="2.75"/>
<circle cx="264.7" cy="543.7" r="2.75"/>
<circle cx="265.3" cy="548.8" r="2.75"/>
<circle cx="265.8" cy="548.5" r="2.75"/>
<circle cx="266.3" cy="545.2" r="2.75"/>
<circle cx="266.9" cy="544.3" r="2.75"/>
<circle cx="267.4" cy="547.5" r="2.75"/>
<circle cx="267.9" cy="545.2" r="2.75"/>
<circle cx="268.5" cy="546.0" r="2.75"/>
<circle cx="269.0" cy="543.3" r="2.75"/>
<circle cx="269.5" cy="546.2" r="2.75"/>
<circle cx="270.0" cy="544.3" r="2.75"/>
<circle cx="270.6" cy="548.0" r="2.75"/>
<circle cx="271.1" cy="546.6" r="2.75"/>
<circle cx="271.6" cy="546.4" r="2.75"/>
<circle cx="272.2" cy="544.1" r="2.75"/>
<circle cx="272.7" cy="545.1" r="2.75"/>
<circle cx="273.2" cy="547.7" r="2.75"/>
<circle cx="273.8" cy="544.9" r="2.75"/>
<circle cx="274.3" cy="544.8" r="2.75"/>
<circle cx="274.8" cy="546.4" r="2.75"/>
<circle cx="275.4" cy="546.7" r="2.75"/>
<circle cx="275.9" cy="546.6" r="2.75"/>
<circle cx="276.4" cy="549.5" r="2.75"/>
<circle cx="276.9" cy="545.9" r="2.75"/>
<circle cx="277.5" cy="545.8" r="2.75"/>
<circle cx="278.0" cy="547.9" r="2.75"/>
<circle cx="278.5" cy="544.8" r="2.75"/>
<circle cx="279.1" cy="548.9" r="2.75"/>
<circle cx="279.6" cy="547.3" r="2.75"/>
<circle cx="280.1" cy="547.1" r="2.75"/>
<circle cx="280.7" cy="542.4" r="2.75"/>
<circle cx="281.2" cy="549.3" r="2.75"/>
<circle cx="281.7" cy="545.2" r="2.75"/>
<circle cx="282.3" cy="544.4" r="2.75"/>
<circle cx="282.8" cy="545.5" r="2.75"/>
<circle cx="283.3" cy="544.0" r="2.75"/>
<circle cx="283.9" cy="548.2" r="2.75"/>
<circle cx="284.4" cy="550.6" r="2.75"/>
<circle cx="284.9" cy="544.8" r="2.75"/>
<circle cx="285.4" cy="548.5" r="2.75"/>
<circle cx="286.0" cy="546.9" r="2.75"/>
<circle cx="286.5" cy="548.5" r="2.75"/>
<circle cx="287.0" cy="544.2" r="2.75"/>
<circle cx="287.6" cy="544.6" r="2.75"/>
<circle cx="288.1" cy="547.6" r="2.75"/>
<circle cx="288.6" cy="544.5" r="2.75"/>
<circle cx="289.2" cy="546.0" r="2.75"/>
<circle cx="289.7" cy="546.5" r="2.75"/>
<circle cx="290.2" cy="546.1" r="2.75"/>
<circle cx="290.8" cy="546.6" r="2.75"/>
<circle cx="291.3" cy="545.1" r="2.75"/>
<circle cx="291.8" cy="545.6" r="2.75"/>
<circle cx="292.3" cy="546.9" r="2.75"/>
<circle cx="292.9" cy="544.3" r="2.75"/>
<circle cx="293.4" cy="547.4" r="2.75"/>
<circle cx="293.9" cy="545.7" r="2.75"/>
<circle cx="294.5" cy="545.4" r="2.75"/>
<circle cx="295.0" cy="543.4" r="2.75"/>
<circle cx="295.5" cy="547.2" r="2.75"/>
<circle cx="296.1" cy="542.9" r="2.75"/>
<circle cx="296.6" cy="545.9" r="2.75"/>
<circle cx="297.1" cy="546.6" r="2.75"/>
<circle cx="297.7" cy="547.5" r="2.75"/>
<circle cx="298.2" cy="545.1" r="2.75"/>
<circle cx="298.7" cy="546.1" r="2.75"/>
<circle cx="299.2" cy="548.3" r="2.75"/>
<circle cx="299.8" cy="548.4" r="2.75"/>
<circle cx="300.3" cy="547.3" r="2.75"/>
<circle cx="300.8" cy="547.5" r="2.75"/>
<circle cx="301.4" cy="544.2" r="2.75"/>
<circle cx="301.9" cy="543.6" r="2.75"/>
<circle cx="302.4" cy="544.6" r="2.75"/>
<circle cx="303.0" cy="545.6" r="2.75"/>
<circle cx="303.5" cy="547.1" r="2.75"/>
<circle cx="304.0" cy="546.1" r="2.75"/>
<circle cx="304.6" cy="544.5" r="2.75"/>
<circle cx="305.1" cy="542.2" r="2.75"/>
<circle cx="305.6" cy="544.5" r="2.75"/>
<circle cx="306.2" cy="546.8" r="2.75"/>
<circle cx="306.7" cy="546.2" r="2.75"/>
<circle cx="307.2" cy="547.2" r="2.75"/>
<circle cx="307.7" cy="547.7" r="2.75"/>
<circle cx="308.3" cy="546.6" r="2.75"/>
<circle cx="308.8" cy="545.9" r="2.75"/>
<circle cx="309.3" cy="542.7" r="2.75"/>
<circle cx="309.9" cy="546.1" r="2.75"/>
<circle cx="310.4" cy="543.6" r="2.75"/>
<circle cx="310.9" cy="542.9" r="2.75"/>
<circle cx="311.5" cy="546.1" r="2.75"/>
<circle cx="312.0" cy="543.2" r="2.75"/>
<circle cx="312.5" cy="544.9" r="2.75"/>
<circle cx="313.1" cy="547.0" r="2.75"/>
<circle cx="313.6" cy="545.7" r="2.75"/>
<circle cx="314.1" cy="546.2" r="2.75"/>
<circle cx="314.6" cy="546.7" r="2.75"/>
<circle cx="315.2" cy="546.6" r="2.75"/>
<circle cx="315.7" cy="546.0" r="2.75"/>
<circle cx="316.2" cy="545.4" r="2.75"/>
<circle cx="316.8" cy="547.9" r="2.75"/>
<circle cx="317.3" cy="546.3" r="2.75"/>
<circle cx="317.8" cy="549.1" r="2.75"/>
<circle cx="318.4" cy="545.7" r="2.75"/>
<circle cx="318.9" cy="545.0" r="2.75"/>
<circle cx="319.4" cy="545.9" r="2.75"/>
<circle cx="320.0" cy="545.7" r="2.75"/>
<circle cx="320.5" cy="545.1" r="2.75"/>
<circle cx="321.0" cy="547.5" r="2.75"/>
<circle cx="66.7" cy="656.7" r="2.75"/>
<circle cx="67.2" cy="656.0" r="2.75"/>
<circle cx="67.7" cy="655.5" r="2.75"/>
<circle cx="68.2" cy="656.1" r="2.75"/>
<circle cx="68.7" cy="654.1" r="2.75"/>
<circle cx="69.2" cy="656.6" r="2.75"/>
<circle cx="69.8" cy="655.6" r="2.75"/>
<circle cx="70.3" cy="655.3" r="2.75"/>
<circle cx="70.8" cy="656.6" r="2.75"/>
<circle cx="71.3" cy="657.2" r="2.75"/>
<circle cx="71.8" cy="657.6" r="2.75"/>
<circle cx="72.3" cy="656.3" r="2.75"/>
<circle cx="72.8" cy="655.4" r="2.75"/>
<circle cx="73.3" cy="656.2" r="2.75"/>
<circle cx="73.8" cy="656.3" r="2.75"/>
<circle cx="74.3" cy="656.8" r="2.75"/>
<circle cx="74.9" cy="656.0" r="2.75"/>
<circle cx="75.4" cy="658.5" r="2.75"/>
<circle cx="75.9" cy="656.3" r="2.75"/>
<circle cx="76.4" cy="656.5" r="2.75"/>
<circle cx="76.9" cy="657.7" r="2.75"/>
<circle cx="77.4" cy="654.5" r="2.75"/>
<circle cx="77.9" cy="657.8" r="2.75"/>
<circle cx="78.4" cy="657.5" r="2.75"/>
<circle cx="78.9" cy="657.6" r="2.75"/>
<circle cx="79.4" cy="655.4" r="2.75"/>
<circle cx="80.0" cy="657.3" r="2.75"/>
<circle cx="80.5" cy="655.9" r="2.75"/>
<circle cx="81.0" cy="655.9" r="2.75"/>
<circle cx="81.5" cy="656.2" r="2.75"/>
<circle cx="82.0" cy="657.7" r="2.75"/>
<circle cx="82.5" cy="657.0" r="2.75"/>
<circle cx="83.0" cy="654.9" r="2.75"/>
<circle cx="83.5" cy="657.7" r="2.75"/>
<circle cx="84.0" cy="657.2" r="2.75"/>
<circle cx="84.5" cy="656.6" r="2.75"/>
<circle cx="85.0" cy="655.7" r="2.75"/>
<circle cx="85.6" cy="656.2" r="2.75"/>
<circle cx="86.1" cy="655.8" r="2.75"/>
<circle cx="86.6" cy="657.5" r="2.75"/>
<circle cx="87.1" cy="655.6" r="2.75"/>
<circle cx="87.6" cy="655.9" r="2.75"/>
<circle cx="88.1" cy="658.0" r="2.75"/>
<circle cx="88.6" cy="655.0" r="2.75"/>
<circle cx="89.1" cy="654.4" r="2.75"/>
<circle cx="89.6" cy="657.2" r="2.75"/>
<circle cx="90.1" cy="656.4" r="2.75"/>
<circle cx="90.7" cy="655.2" r="2.75"/>
<circle cx="91.2" cy="657.8" r="2.75"/>
<circle cx="91.7" cy="658.3" r="2.75"/>
<circle cx="92.2" cy="657.7" r="2.75"/>
<circle cx="92.7" cy="657.0" r="2.75"/>
<circle cx="93.2" cy="657.0" r="2.75"/>
<circle cx="93.7" cy="655.9" r="2.75"/>
<circle cx="94.2" cy="656.2" r="2.75"/>
<circle cx="94.7" cy="657.6" r="2.75"/>
<circle cx="95.2" cy="656.0" r="2.75"/>
<circle cx="95.8" cy="654.7" r="2.75"/>
<circle cx="96.3" cy="655.4" r="2.75"/>
<circle cx="96.8" cy="655.6" r="2.75"/>
<circle cx="97.3" cy="656.5" r="2.75"/>
<circle cx="97.8" cy="655.6" r="2.75"/>
<circle cx="98.3" cy="657.4" r="2.75"/>
<circle cx="98.8" cy="655.8" r="2.75"/>
<circle cx="99.3" cy="656.6" r="2.75"/>
<circle cx="99.8" cy="655.4" r="2.75"/>
<circle cx="100.3" cy="656.0" r="2.75"/>
<circle cx="100.8" cy="657.5" r="2.75"/>
<circle cx="101.4" cy="656.4" r="2.75"/>
<circle cx="101.9" cy="655.3" r="2.75"/>
<circle cx="102.4" cy="657.5" r="2.75"/>
<circle cx="102.9" cy="657.0" r="2.75"/>
<circle cx="103.4" cy="657.2" r="2.75"/>
<circle cx="103.9" cy="657.9" r="2.75"/>
<circle cx="104.4" cy="655.6" r="2.75"/>
<circle cx="104.9" cy="655.3" r="2.75"/>
<circle cx="105.4" cy="655.7" r="2.75"/>
<circle cx="105.9" cy="656.3" r="2.75"/>
<circle cx="106.5" cy="656.5" r="2.75"/>
<circle cx="107.0" cy="656.3" r="2.75"/>
<circle cx="107.5" cy="657.2" r="2.75"/>
<circle cx="108.0" cy="655.6" r="2.75"/>
<circle cx="108.5" cy="655.5" r="2.75"/>
<circle cx="109.0" cy="655.6" r="2.75"/>
<circle cx="109.5" cy="657.0" r="2.75"/>
<circle cx="110.0" cy="656.4" r="2.75"/>
<circle cx="110.5" cy="656.6" r="2.75"/>
<circle cx="111.0" cy="654.8" r="2.75"/>
<circle cx="111.5" cy="656.3" r="2.75"/>
<circle cx="112.1" cy="658.2" r="2.75"/>
<circle cx="112.6" cy="656.1" r="2.75"/>
<circle cx="113.1" cy="654.7" r="2.75"/>
<circle cx="113.6" cy="655.8" r="2.75"/>
<circle cx="114.1" cy="655.7" r="2.75"/>
<circle cx="114.6" cy="656.4" r="2.75"/>
<circle cx="115.1" cy="658.3" r="2.75"/>
<circle cx="115.6" cy="658.2" r="2.75"/>
<circle cx="116.1" cy="657.6" r="2.75"/>
<circle cx="116.6" cy="656.6" r="2.75"/>
<circle cx="117.2" cy="656.2" r="2.75"/>
<circle cx="117.7" cy="655.8" r="2.75"/>
<circle cx="118.2" cy="656.8" r="2.75"/>
<circle cx="118.7" cy="655.6" r="2.75"/>
<circle cx="119.2" cy="656.7" r="2.75"/>
<circle cx="119.7" cy="657.1" r="2.75"/>
<circle cx="120.2" cy="655.7" r="2.75"/>
<circle cx="120.7" cy="657.3" r="2.75"/>
<circle cx="121.2" cy="659.0" r="2.75"/>
<circle cx="121.7" cy="657.5" r="2.75"/>
<circle cx="122.3" cy="656.4" r="2.75"/>
<circle cx="122.8" cy="659.3" r="2.75"/>
<circle cx="123.3" cy="656.8" r="2.75"/>
<circle cx="123.8" cy="656.8" r="2.75"/>
<circle cx="124.3" cy="657.8" r="2.75"/>
<circle cx="124.8" cy="657.8" r="2.75"/>
<circle cx="125.3" cy="656.9" r="2.75"/>
<circle cx="125.8" cy="657.0" r="2.75"/>
<circle cx="126.3" cy="655.3" r="2.75"/>
<circle cx="126.8" cy="656.1" r="2.75"/>
<circle cx="127.3" cy="657.9" r="2.75"/>
<circle cx="127.9" cy="657.3" r="2.75"/>
<circle cx="128.4" cy="655.8" r="2.75"/>
<circle cx="128.9" cy="654.7" r="2.75"/>
<circle cx="129.4" cy="656.1" r="2.75"/>
<circle cx="129.9" cy="656.2" r="2.75"/>
<circle cx="130.4" cy="654.8" r="2.75"/>
<circle cx="130.9" cy="656.5" r="2.75"/>
<circle cx="131.4" cy="656.8" r="2.75"/>
<circle cx="131.9" cy="657.8" r="2.75"/>
<circle cx="132.4" cy="657.0" r="2.75"/>
<circle cx="133.0" cy="654.5" r="2.75"/>
<circle cx="133.5" cy="657.8" r="2.75"/>
<circle cx="134.0" cy="656.5" r="2.75"/>
<circle cx="134.5" cy="657.8" r="2.75"/>
<circle cx="135.0" cy="656.4" r="2.75"/>
<circle cx="135.5" cy="655.7" r="2.75"/>
<circle cx="136.0" cy="656.7" r="2.75"/>
<circle cx="136.5" cy="655.8" r="2.75"/>
<circle cx="137.0" cy="655.8" r="2.75"/>
<circle cx="137.5" cy="656.1" r="2.75"/>
<circle cx="138.1" cy="654.9" r="2.75"/>
<circle cx="138.6" cy="655.8" r="2.75"/>
<circle cx="139.1" cy="656.8" r="2.75"/>
<circle cx="139.6" cy="657.1" r="2.75"/>
<circle cx="140.1" cy="657.3" r="2.75"/>
<circle cx="140.6" cy="656.0" r="2.75"/>
<circle cx="141.1" cy="656.8" r="2.75"/>
<circle cx="141.6" cy="653.9" r="2.75"/>
<circle cx="142.1" cy="654.8" r="2.75"/>
<circle cx="142.6" cy="656.7" r="2.75"/>
<circle cx="143.1" cy="656.8" r="2.75"/>
<circle cx="143.7" cy="654.9" r="2.75"/>
<circle cx="144.2" cy="658.2" r="2.75"/>
<circle cx="144.7" cy="656.9" r="2.75"/>
<circle cx="145.2" cy="655.6" r="2.75"/>
<circle cx="145.7" cy="657.3" r="2.75"/>
<circle cx="146.2" cy="656.9" r="2.75"/>
<circle cx="146.7" cy="656.8" r="2.75"/>
<circle cx="147.2" cy="655.9" r="2.75"/>
<circle cx="147.7" cy="656.3" r="2.75"/>
<circle cx="148.2" cy="656.1" r="2.75"/>
<circle cx="148.8" cy="655.9" r="2.75"/>
<circle cx="149.3" cy="656.4" r="2.75"/>
<circle cx="149.8" cy="655.4" r="2.75"/>
<circle cx="150.3" cy="657.2" r="2.75"/>
<circle cx="150.8" cy="657.8" r="2.75"/>
<circle cx="151.3" cy="658.1" r="2.75"/>
<circle cx="151.8" cy="658.0" r="2.75"/>
<circle cx="152.3" cy="657.0" r="2.75"/>
<circle cx="152.8" cy="655.5" r="2.75"/>
<circle cx="153.3" cy="656.3" r="2.75"/>
<circle cx="153.9" cy="657.0" r="2.75"/>
<circle cx="154.4" cy="657.5" r="2.75"/>
<circle cx="154.9" cy="657.0" r="2.75"/>
<circle cx="155.4" cy="656.9" r="2.75"/>
<circle cx="155.9" cy="657.0" r="2.75"/>
<circle cx="156.4" cy="657.8" r="2.75"/>
<circle cx="156.9" cy="656.9" r="2.75"/>
<circle cx="157.4" cy="655.5" r="2.75"/>
<circle cx="157.9" cy="658.5" r="2.75"/>
<circle cx="158.4" cy="656.7" r="2.75"/>
<circle cx="158.9" cy="658.4" r="2.75"/>
<circle cx="159.5" cy="656.3" r="2.75"/>
<circle cx="160.0" cy="657.2" r="2.75"/>
<circle cx="160.5" cy="658.4" r="2.75"/>
<circle cx="161.0" cy="656.4" r="2.75"/>
<circle cx="161.5" cy="654.8" r="2.75"/>
<circle cx="162.0" cy="656.4" r="2.75"/>
<circle cx="162.5" cy="655.4" r="2.75"/>
<circle cx="163.0" cy="656.5" r="2.75"/>
<circle cx="163.5" cy="658.5" r="2.75"/>
<circle cx="164.0" cy="656.0" r="2.75"/>
<circle cx="164.6" cy="656.9" r="2.75"/>
<circle cx="165.1" cy="657.8" r="2.75"/>
<circle cx="165.6" cy="655.7" r="2.75"/>
<circle cx="166.1" cy="656.2" r="2.75"/>
<circle cx="166.6" cy="657.0" r="2.75"/>
<circle cx="167.1" cy="655.7" r="2.75"/>
<circle cx="167.6" cy="657.3" r="2.75"/>
<circle cx="168.1" cy="655.9" r="2.75"/>
<circle cx="168.6" cy="657.3" r="2.75"/>
<circle cx="169.1" cy="656.0" r="2.75"/>
<circle cx="169.6" cy="657.5" r="2.75"/>
<circle cx="170.2" cy="655.1" r="2.75"/>
<circle cx="170.7" cy="656.2" r="2.75"/>
<circle cx="171.2" cy="655.1" r="2.75"/>
<circle cx="171.7" cy="657.2" r="2.75"/>
<circle cx="172.2" cy="656.9" r="2.75"/>
<circle cx="172.7" cy="655.7" r="2.75"/>
<circle cx="173.2" cy="659.0" r="2.75"/>
<circle cx="173.7" cy="657.5" r="2.75"/>
<circle cx="174.2" cy="655.5" r="2.75"/>
<circle cx="174.7" cy="656.0" r="2.75"/>
<circle cx="175.3" cy="655.6" r="2.75"/>
<circle cx="175.8" cy="656.8" r="2.75"/>
<circle cx="176.3" cy="656.0" r="2.75"/>
<circle cx="176.8" cy="657.2" r="2.75"/>
<circle cx="177.3" cy="657.7" r="2.75"/>
<circle cx="177.8" cy="658.0" r="2.75"/>
<circle cx="178.3" cy="657.0" r="2.75"/>
<circle cx="178.8" cy="657.0" r="2.75"/>
<circle cx="179.3" cy="657.1" r="2.75"/>
<circle cx="179.8" cy="659.8" r="2.75"/>
<circle cx="180.4" cy="658.3" r="2.75"/>
<circle cx="180.9" cy="657.0" r="2.75"/>
<circle cx="181.4" cy="656.2" r="2.75"/>
<circle cx="181.9" cy="657.0" r="2.75"/>
<circle cx="182.4" cy="657.3" r="2.75"/>
<circle cx="182.9" cy="658.6" r="2.75"/>
<circle cx="183.4" cy="654.6" r="2.75"/>
<circle cx="183.9" cy="657.5" r="2.75"/>
<circle cx="184.4" cy="654.9" r="2.75"/>
<circle cx="184.9" cy="655.0" r="2.75"/>
<circle cx="185.4" cy="656.2" r="2.75"/>
<circle cx="186.0" cy="657.0" r="2.75"/>
<circle cx="186.5" cy="656.4" r="2.75"/>
<circle cx="187.0" cy="657.5" r="2.75"/>
<circle cx="187.5" cy="656.2" r="2.75"/>
<circle cx="188.0" cy="656.5" r="2.75"/>
<circle cx="188.5" cy="656.0" r="2.75"/>
<circle cx="189.0" cy="655.6" r="2.75"/>
<circle cx="189.5" cy="654.9" r="2.75"/>
<circle cx="190.0" cy="656.8" r="2.75"/>
<circle cx="190.5" cy="655.5" r="2.75"/>
<circle cx="191.1" cy="657.2" r="2.75"/>
<circle cx="191.6" cy="657.3" r="2.75"/>
<circle cx="192.1" cy="657.0" r="2.75"/>
<circle cx="192.6" cy="657.4" r="2.75"/>
<circle cx="193.1" cy="655.6" r="2.75"/>
<circle cx="193.6" cy="655.6" r="2.75"/>
<circle cx="194.1" cy="655.3" r="2.75"/>
<circle cx="194.6" cy="656.5" r="2.75"/>
<circle cx="195.1" cy="656.2" r="2.75"/>
<circle cx="195.6" cy="657.0" r="2.75"/>
<circle cx="196.2" cy="657.5" r="2.75"/>
<circle cx="196.7" cy="656.1" r="2.75"/>
<circle cx="197.2" cy="656.2" r="2.75"/>
<circle cx="197.7" cy="657.5" r="2.75"/>
<circle cx="198.2" cy="655.9" r="2.75"/>
<circle cx="198.7" cy="658.1" r="2.75"/>
<circle cx="199.2" cy="656.6" r="2.75"/>
<circle cx="199.7" cy="657.1" r="2.75"/>
<circle cx="200.2" cy="657.0" r="2.75"/>
<circle cx="200.7" cy="657.5" r="2.75"/>
<circle cx="201.2" cy="655.6" r="2.75"/>
<circle cx="201.8" cy="656.0" r="2.75"/>
<circle cx="202.3" cy="655.4" r="2.75"/>
<circle cx="202.8" cy="656.4" r="2.75"/>
<circle cx="203.3" cy="657.7" r="2.75"/>
<circle cx="203.8" cy="656.8" r="2.75"/>
<circle cx="204.3" cy="657.6" r="2.75"/>
<circle cx="204.8" cy="656.1" r="2.75"/>
<circle cx="205.3" cy="655.4" r="2.75"/>
<circle cx="205.8" cy="656.2" r="2.75"/>
<circle cx="206.3" cy="657.0" r="2.75"/>
<circle cx="206.9" cy="656.8" r="2.75"/>
<circle cx="207.4" cy="656.3" r="2.75"/>
<circle cx="207.9" cy="657.8" r="2.75"/>
<circle cx="208.4" cy="656.4" r="2.75"/>
<circle cx="208.9" cy="656.3" r="2.75"/>
<circle cx="209.4" cy="657.0" r="2.75"/>
<circle cx="209.9" cy="656.9" r="2.75"/>
<circle cx="210.4" cy="656.3" r="2.75"/>
<circle cx="210.9" cy="657.3" r="2.75"/>
<circle cx="211.4" cy="657.3" r="2.75"/>
<circle cx="212.0" cy="655.8" r="2.75"/>
<circle cx="212.5" cy="656.3" r="2.75"/>
<circle cx="213.0" cy="654.9" r="2.75"/>
<circle cx="213.5" cy="657.4" r="2.75"/>
<circle cx="214.0" cy="658.1" r="2.75"/>
<circle cx="214.5" cy="655.6" r="2.75"/>
<circle cx="215.0" cy="655.6" r="2.75"/>
<circle cx="215.5" cy="657.2" r="2.75"/>
<circle cx="216.0" cy="657.9" r="2.75"/>
<circle cx="216.5" cy="656.5" r="2.75"/>
<circle cx="217.0" cy="658.1" r="2.75"/>
<circle cx="217.6" cy="656.8" r="2.75"/>
<circle cx="218.1" cy="658.5" r="2.75"/>
<circle cx="218.6" cy="656.7" r="2.75"/>
<circle cx="219.1" cy="658.5" r="2.75"/>
<circle cx="219.6" cy="656.7" r="2.75"/>
<circle cx="220.1" cy="655.1" r="2.75"/>
<circle cx="220.6" cy="656.8" r="2.75"/>
<circle cx="221.1" cy="655.8" r="2.75"/>
<circle cx="221.6" cy="657.1" r="2.75"/>
<circle cx="222.1" cy="657.3" r="2.75"/>
<circle cx="222.7" cy="657.9" r="2.75"/>
<circle cx="223.2" cy="655.5" r="2.75"/>
<circle cx="223.7" cy="656.6" r="2.75"/>
<circle cx="224.2" cy="655.0" r="2.75"/>
<circle cx="224.7" cy="657.6" r="2.75"/>
<circle cx="225.2" cy="656.7" r="2.75"/>
<circle cx="225.7" cy="656.4" r="2.75"/>
<circle cx="226.2" cy="655.2" r="2.75"/>
<circle cx="226.7" cy="654.8" r="2.75"/>
<circle cx="227.2" cy="657.1" r="2.75"/>
<circle cx="227.7" cy="657.6" r="2.75"/>
<circle cx="228.3" cy="658.1" r="2.75"/>
<circle cx="228.8" cy="655.3" r="2.75"/>
<circle cx="229.3" cy="656.6" r="2.75"/>
<circle cx="229.8" cy="657.1" r="2.75"/>
<circle cx="230.3" cy="656.6" r="2.75"/>
<circle cx="230.8" cy="658.9" r="2.75"/>
<circle cx="231.3" cy="658.1" r="2.75"/>
<circle cx="231.8" cy="655.7" r="2.75"/>
<circle cx="232.3" cy="656.2" r="2.75"/>
<circle cx="232.8" cy="656.4" r="2.75"/>
<circle cx="233.4" cy="657.5" r="2.75"/>
<circle cx="233.9" cy="656.0" r="2.75"/>
<circle cx="234.4" cy="654.9" r="2.75"/>
<circle cx="234.9" cy="657.7" r="2.75"/>
<circle cx="235.4" cy="656.5" r="2.75"/>
<circle cx="235.9" cy="656.9" r="2.75"/>
<circle cx="236.4" cy="656.2" r="2.75"/>
<circle cx="236.9" cy="656.5" r="2.75"/>
<circle cx="237.4" cy="656.7" r="2.75"/>
<circle cx="237.9" cy="657.3" r="2.75"/>
<circle cx="238.5" cy="656.5" r="2.75"/>
<circle cx="239.0" cy="657.1" r="2.75"/>
<circle cx="239.5" cy="656.7" r="2.75"/>
<circle cx="240.0" cy="656.6" r="2.75"/>
<circle cx="240.5" cy="655.9" r="2.75"/>
<circle cx="241.0" cy="657.1" r="2.75"/>
<circle cx="241.5" cy="656.8" r="2.75"/>
<circle cx="242.0" cy="655.5" r="2.75"/>
<circle cx="242.5" cy="656.7" r="2.75"/>
<circle cx="243.0" cy="656.8" r="2.75"/>
<circle cx="243.5" cy="655.7" r="2.75"/>
<circle cx="244.1" cy="656.3" r="2.75"/>
<circle cx="244.6" cy="656.4" r="2.75"/>
<circle cx="245.1" cy="656.3" r="2.75"/>
<circle cx="245.6" cy="657.7" r="2.75"/>
<circle cx="246.1" cy="656.1" r="2.75"/>
<circle cx="246.6" cy="655.3" r="2.75"/>
<circle cx="247.1" cy="656.0" r="2.75"/>
<circle cx="247.6" cy="658.0" r="2.75"/>
<circle cx="248.1" cy="656.3" r="2.75"/>
<circle cx="248.6" cy="657.4" r="2.75"/>
<circle cx="249.2" cy="656.7" r="2.75"/>
<circle cx="249.7" cy="656.4" r="2.75"/>
<circle cx="250.2" cy="657.6" r="2.75"/>
<circle cx="250.7" cy="655.3" r="2.75"/>
<circle cx="251.2" cy="656.6" r="2.75"/>
<circle cx="251.7" cy="655.8" r="2.75"/>
<circle cx="252.2" cy="655.9" r="2.75"/>
<circle cx="252.7" cy="655.3" r="2.75"/>
<circle cx="253.2" cy="655.4" r="2.75"/>
<circle cx="253.7" cy="657.9" r="2.75"/>
<circle cx="254.3" cy="656.5" r="2.75"/>
<circle cx="254.8" cy="658.5" r="2.75"/>
<circle cx="255.3" cy="656.9" r="2.75"/>
<circle cx="255.8" cy="655.8" r="2.75"/>
<circle cx="256.3" cy="655.7" r="2.75"/>
<circle cx="256.8" cy="655.3" r="2.75"/>
<circle cx="257.3" cy="656.9" r="2.75"/>
<circle cx="257.8" cy="656.2" r="2.75"/>
<circle cx="258.3" cy="656.4" r="2.75"/>
<circle cx="258.8" cy="655.3" r="2.75"/>
<circle cx="259.3" cy="655.0" r="2.75"/>
<circle cx="259.9" cy="656.8" r="2.75"/>
<circle cx="260.4" cy="653.0" r="2.75"/>
<circle cx="260.9" cy="656.5" r="2.75"/>
<circle cx="261.4" cy="656.8" r="2.75"/>
<circle cx="261.9" cy="656.0" r="2.75"/>
<circle cx="262.4" cy="655.8" r="2.75"/>
<circle cx="262.9" cy="656.0" r="2.75"/>
<circle cx="263.4" cy="657.1" r="2.75"/>
<circle cx="263.9" cy="655.1" r="2.75"/>
<circle cx="264.4" cy="656.5" r="2.75"/>
<circle cx="265.0" cy="655.1" r="2.75"/>
<circle cx="265.5" cy="655.2" r="2.75"/>
<circle cx="266.0" cy="657.7" r="2.75"/>
<circle cx="266.5" cy="657.4" r="2.75"/>
<circle cx="267.0" cy="657.4" r="2.75"/>
<circle cx="267.5" cy="656.3" r="2.75"/>
<circle cx="268.0" cy="656.4" r="2.75"/>
<circle cx="268.5" cy="656.2" r="2.75"/>
<circle cx="269.0" cy="657.2" r="2.75"/>
<circle cx="269.5" cy="656.1" r="2.75"/>
<circle cx="270.1" cy="655.2" r="2.75"/>
<circle cx="270.6" cy="657.7" r="2.75"/>
<circle cx="271.1" cy="656.7" r="2.75"/>
<circle cx="271.6" cy="656.3" r="2.75"/>
<circle cx="272.1" cy="656.6" r="2.75"/>
<circle cx="272.6" cy="656.7" r="2.75"/>
<circle cx="273.1" cy="654.9" r="2.75"/>
<circle cx="273.6" cy="655.3" r="2.75"/>
<circle cx="274.1" cy="655.7" r="2.75"/>
<circle cx="274.6" cy="657.2" r="2.75"/>
<circle cx="275.1" cy="654.4" r="2.75"/>
<circle cx="275.7" cy="656.2" r="2.75"/>
<circle cx="276.2" cy="657.0" r="2.75"/>
<circle cx="276.7" cy="656.8" r="2.75"/>
<circle cx="277.2" cy="656.9" r="2.75"/>
<circle cx="277.7" cy="654.5" r="2.75"/>
<circle cx="278.2" cy="656.3" r="2.75"/>
<circle cx="278.7" cy="656.4" r="2.75"/>
<circle cx="279.2" cy="658.5" r="2.75"/>
<circle cx="279.7" cy="655.8" r="2.75"/>
<circle cx="280.2" cy="657.5" r="2.75"/>
<circle cx="280.8" cy="657.5" r="2.75"/>
<circle cx="281.3" cy="655.9" r="2.75"/>
<circle cx="281.8" cy="657.3" r="2.75"/>
<circle cx="282.3" cy="655.7" r="2.75"/>
<circle cx="282.8" cy="655.4" r="2.75"/>
<circle cx="283.3" cy="658.1" r="2.75"/>
<circle cx="283.8" cy="656.6" r="2.75"/>
<circle cx="284.3" cy="657.9" r="2.75"/>
<circle cx="284.8" cy="656.5" r="2.75"/>
<circle cx="285.3" cy="655.6" r="2.75"/>
<circle cx="285.9" cy="657.8" r="2.75"/>
<circle cx="286.4" cy="654.8" r="2.75"/>
<circle cx="286.9" cy="656.8" r="2.75"/>
<circle cx="287.4" cy="657.6" r="2.75"/>
<circle cx="287.9" cy="656.6" r="2.75"/>
<circle cx="288.4" cy="655.8" r="2.75"/>
<circle cx="288.9" cy="657.8" r="2.75"/>
<circle cx="289.4" cy="656.5" r="2.75"/>
<circle cx="289.9" cy="657.8" r="2.75"/>
<circle cx="290.4" cy="655.4" r="2.75"/>
<circle cx="290.9" cy="656.3" r="2.75"/>
<circle cx="291.5" cy="656.9" r="2.75"/>
<circle cx="292.0" cy="655.5" r="2.75"/>
<circle cx="292.5" cy="657.7" r="2.75"/>
<circle cx="293.0" cy="656.9" r="2.75"/>
<circle cx="293.5" cy="654.8" r="2.75"/>
<circle cx="294.0" cy="656.6" r="2.75"/>
<circle cx="294.5" cy="655.2" r="2.75"/>
<circle cx="295.0" cy="656.3" r="2.75"/>
<circle cx="295.5" cy="657.1" r="2.75"/>
<circle cx="296.0" cy="656.7" r="2.75"/>
<circle cx="296.6" cy="656.4" r="2.75"/>
<circle cx="297.1" cy="656.9" r="2.75"/>
<circle cx="297.6" cy="657.3" r="2.75"/>
<circle cx="298.1" cy="657.2" r="2.75"/>
<circle cx="298.6" cy="657.9" r="2.75"/>
<circle cx="299.1" cy="656.4" r="2.75"/>
<circle cx="299.6" cy="656.1" r="2.75"/>
<circle cx="300.1" cy="655.8" r="2.75"/>
<circle cx="300.6" cy="658.2" r="2.75"/>
<circle cx="301.1" cy="655.8" r="2.75"/>
<circle cx="301.6" cy="656.5" r="2.75"/>
<circle cx="302.2" cy="657.8" r="2.75"/>
<circle cx="302.7" cy="656.4" r="2.75"/>
<circle cx="303.2" cy="655.7" r="2.75"/>
<circle cx="303.7" cy="656.0" r="2.75"/>
<circle cx="304.2" cy="655.8" r="2.75"/>
<circle cx="304.7" cy="655.6" r="2.75"/>
<circle cx="305.2" cy="655.7" r="2.75"/>
<circle cx="305.7" cy="656.5" r="2.75"/>
<circle cx="306.2" cy="658.4" r="2.75"/>
<circle cx="306.7" cy="657.2" r="2.75"/>
<circle cx="307.3" cy="656.2" r="2.75"/>
<circle cx="307.8" cy="656.9" r="2.75"/>
<circle cx="308.3" cy="655.9" r="2.75"/>
<circle cx="308.8" cy="655.8" r="2.75"/>
<circle cx="309.3" cy="656.5" r="2.75"/>
<circle cx="309.8" cy="654.8" r="2.75"/>
<circle cx="310.3" cy="657.4" r="2.75"/>
<circle cx="310.8" cy="655.6" r="2.75"/>
<circle cx="311.3" cy="656.9" r="2.75"/>
<circle cx="311.8" cy="657.2" r="2.75"/>
<circle cx="312.4" cy="655.9" r="2.75"/>
<circle cx="312.9" cy="657.1" r="2.75"/>
<circle cx="313.4" cy="655.7" r="2.75"/>
<circle cx="313.9" cy="657.6" r="2.75"/>
<circle cx="314.4" cy="656.5" r="2.75"/>
<circle cx="314.9" cy="657.3" r="2.75"/>
<circle cx="315.4" cy="656.7" r="2.75"/>
<circle cx="315.9" cy="656.8" r="2.75"/>
<circle cx="316.4" cy="657.5" r="2.75"/>
<circle cx="316.9" cy="655.9" r="2.75"/>
<circle cx="317.4" cy="657.6" r="2.75"/>
<circle cx="318.0" cy="657.4" r="2.75"/>
<circle cx="318.5" cy="655.7" r="2.75"/>
<circle cx="319.0" cy="655.6" r="2.75"/>
<circle cx="319.5" cy="655.9" r="2.75"/>
<circle cx="320.0" cy="656.2" r="2.75"/>
<circle cx="320.5" cy="654.4" r="2.75"/>
<circle cx="321.0" cy="657.6" r="2.75"/>
<circle cx="305.9" cy="559.3" r="2.75"/>
<circle cx="170.3" cy="554.7" r="2.75"/>
<circle cx="194.8" cy="668.2" r="2.75"/>
<circle cx="283.3" cy="663.5" r="2.75"/>
<circle cx="289.0" cy="663.5" r="2.75"/>
</g>
<line x1="66.7" y1="512" x2="66.7" y2="687.7" stroke="#000" stroke-width="2.0" />
<line x1="63.1" y1="686.7" x2="323.9" y2="686.7" stroke="#000" stroke-width="2.0" />
<line x1="63.1" y1="513" x2="70.3" y2="513" stroke="#000" stroke-width="2.0" />
<text x="54.7" y="517.3" font-size="12.4" text-anchor="end" >1.7</text>
<line x1="63.1" y1="547.74" x2="70.3" y2="547.74" stroke="#000" stroke-width="2.0" />
<text x="54.7" y="552.04" font-size="12.4" text-anchor="end" >1.4</text>
<line x1="63.1" y1="582.48" x2="70.3" y2="582.48" stroke="#000" stroke-width="2.0" />
<text x="54.7" y="586.78" font-size="12.4" text-anchor="end" >1.1</text>
<line x1="63.1" y1="617.22" x2="70.3" y2="617.22" stroke="#000" stroke-width="2.0" />
<text x="54.7" y="621.52" font-size="12.4" text-anchor="end" >0.8</text>
<line x1="63.1" y1="651.96" x2="70.3" y2="651.96" stroke="#000" stroke-width="2.0" />
<text x="54.7" y="656.26" font-size="12.4" text-anchor="end" >0.5</text>
<line x1="63.1" y1="686.7" x2="70.3" y2="686.7" stroke="#000" stroke-width="2.0" />
<text x="54.7" y="691" font-size="12.4" text-anchor="end" >0.2</text>
<line x1="66.7" y1="683.1" x2="66.7" y2="690.3" stroke="#000" stroke-width="2.0" />
<text x="66.7" y="705.9" font-size="12.4" text-anchor="middle" >0</text>
<line x1="130.75" y1="683.1" x2="130.75" y2="690.3" stroke="#000" stroke-width="2.0" />
<text x="130.75" y="705.9" font-size="12.4" text-anchor="middle" >340</text>
<line x1="194.8" y1="683.1" x2="194.8" y2="690.3" stroke="#000" stroke-width="2.0" />
<text x="194.8" y="705.9" font-size="12.4" text-anchor="middle" >680</text>
<line x1="258.85" y1="683.1" x2="258.85" y2="690.3" stroke="#000" stroke-width="2.0" />
<text x="258.85" y="705.9" font-size="12.4" text-anchor="middle" >1020</text>
<line x1="322.9" y1="683.1" x2="322.9" y2="690.3" stroke="#000" stroke-width="2.0" />
<text x="322.9" y="705.9" font-size="12.4" text-anchor="middle" >1360</text>
<text x="195" y="726" font-size="12.7" text-anchor="middle" >Well number</text>
<text transform="translate(30.5,599.6) rotate(-90)" font-size="12.7" text-anchor="middle">rFRET</text>
<text x="94.6" y="517.6" font-size="12.7" text-anchor="start" >ARC4-TBM FRET pair</text>
<text x="247.6" y="517.6" font-size="12.7" text-anchor="start" >Z'-factor: 0.91</text>
<path d="M330.2,534.3 H333.8 V563 H330.2" fill="none" stroke="#000" stroke-width="1.9"/>
<text x="367.3" y="546.4" font-size="12.7" text-anchor="middle" >negative</text>
<text x="367.3" y="559.6" font-size="12.7" text-anchor="middle" >control</text>
<path d="M330.2,643.9 H333.8 V673.3 H330.2" fill="none" stroke="#000" stroke-width="1.9"/>
<text x="367.3" y="649.4" font-size="12.7" text-anchor="middle" >positive</text>
<text x="367.3" y="662.3" font-size="12.7" text-anchor="middle" >control</text>
<text x="367.3" y="675.2" font-size="12.7" text-anchor="middle" >(GdnHCl)</text>
<g fill="none" stroke="#000" stroke-opacity="0.7" stroke-width="0.8">
<circle cx="463.3" cy="560.3" r="2.75"/>
<circle cx="463.7" cy="562.7" r="2.75"/>
<circle cx="464.1" cy="562.4" r="2.75"/>
<circle cx="464.4" cy="569.4" r="2.75"/>
<circle cx="464.8" cy="554.7" r="2.75"/>
<circle cx="465.2" cy="557.0" r="2.75"/>
<circle cx="465.6" cy="562.1" r="2.75"/>
<circle cx="465.9" cy="558.3" r="2.75"/>
<circle cx="466.3" cy="560.0" r="2.75"/>
<circle cx="466.7" cy="562.9" r="2.75"/>
<circle cx="467.1" cy="557.5" r="2.75"/>
<circle cx="467.4" cy="562.0" r="2.75"/>
<circle cx="467.8" cy="562.1" r="2.75"/>
<circle cx="468.2" cy="563.7" r="2.75"/>
<circle cx="468.6" cy="559.4" r="2.75"/>
<circle cx="468.9" cy="561.3" r="2.75"/>
<circle cx="469.3" cy="559.0" r="2.75"/>
<circle cx="469.7" cy="563.0" r="2.75"/>
<circle cx="470.1" cy="560.5" r="2.75"/>
<circle cx="470.4" cy="564.0" r="2.75"/>
<circle cx="470.8" cy="558.0" r="2.75"/>
<circle cx="471.2" cy="560.3" r="2.75"/>
<circle cx="471.6" cy="559.8" r="2.75"/>
<circle cx="471.9" cy="559.5" r="2.75"/>
<circle cx="472.3" cy="564.4" r="2.75"/>
<circle cx="472.7" cy="558.2" r="2.75"/>
<circle cx="473.1" cy="553.8" r="2.75"/>
<circle cx="473.4" cy="566.6" r="2.75"/>
<circle cx="473.8" cy="566.9" r="2.75"/>
<circle cx="474.2" cy="566.1" r="2.75"/>
<circle cx="474.6" cy="558.0" r="2.75"/>
<circle cx="474.9" cy="560.5" r="2.75"/>
<circle cx="475.3" cy="557.2" r="2.75"/>
<circle cx="475.7" cy="558.4" r="2.75"/>
<circle cx="476.1" cy="560.2" r="2.75"/>
<circle cx="476.4" cy="559.9" r="2.75"/>
<circle cx="476.8" cy="561.5" r="2.75"/>
<circle cx="477.2" cy="557.9" r="2.75"/>
<circle cx="477.6" cy="564.8" r="2.75"/>
<circle cx="477.9" cy="562.4" r="2.75"/>
<circle cx="478.3" cy="560.1" r="2.75"/>
<circle cx="478.7" cy="554.7" r="2.75"/>
<circle cx="479.1" cy="563.6" r="2.75"/>
<circle cx="479.4" cy="564.7" r="2.75"/>
<circle cx="479.8" cy="562.9" r="2.75"/>
<circle cx="480.2" cy="557.6" r="2.75"/>
<circle cx="480.6" cy="561.7" r="2.75"/>
<circle cx="480.9" cy="556.3" r="2.75"/>
<circle cx="481.3" cy="567.4" r="2.75"/>
<circle cx="481.7" cy="557.0" r="2.75"/>
<circle cx="482.1" cy="557.3" r="2.75"/>
<circle cx="482.4" cy="565.8" r="2.75"/>
<circle cx="482.8" cy="560.4" r="2.75"/>
<circle cx="483.2" cy="556.7" r="2.75"/>
<circle cx="483.6" cy="560.6" r="2.75"/>
<circle cx="483.9" cy="557.5" r="2.75"/>
<circle cx="484.3" cy="552.7" r="2.75"/>
<circle cx="484.7" cy="560.0" r="2.75"/>
<circle cx="485.1" cy="561.9" r="2.75"/>
<circle cx="485.4" cy="563.6" r="2.75"/>
<circle cx="485.8" cy="558.7" r="2.75"/>
<circle cx="486.2" cy="561.6" r="2.75"/>
<circle cx="486.6" cy="561.6" r="2.75"/>
<circle cx="486.9" cy="561.3" r="2.75"/>
<circle cx="487.3" cy="558.7" r="2.75"/>
<circle cx="487.7" cy="564.6" r="2.75"/>
<circle cx="488.1" cy="566.2" r="2.75"/>
<circle cx="488.4" cy="569.4" r="2.75"/>
<circle cx="488.8" cy="556.8" r="2.75"/>
<circle cx="489.2" cy="560.7" r="2.75"/>
<circle cx="489.6" cy="555.7" r="2.75"/>
<circle cx="489.9" cy="561.0" r="2.75"/>
<circle cx="490.3" cy="563.5" r="2.75"/>
<circle cx="490.7" cy="559.3" r="2.75"/>
<circle cx="491.1" cy="561.2" r="2.75"/>
<circle cx="491.4" cy="565.3" r="2.75"/>
<circle cx="491.8" cy="564.0" r="2.75"/>
<circle cx="492.2" cy="554.8" r="2.75"/>
<circle cx="492.6" cy="559.7" r="2.75"/>
<circle cx="492.9" cy="559.5" r="2.75"/>
<circle cx="493.3" cy="561.9" r="2.75"/>
<circle cx="493.7" cy="563.3" r="2.75"/>
<circle cx="494.1" cy="557.8" r="2.75"/>
<circle cx="494.4" cy="561.3" r="2.75"/>
<circle cx="494.8" cy="563.6" r="2.75"/>
<circle cx="495.2" cy="561.4" r="2.75"/>
<circle cx="495.6" cy="564.1" r="2.75"/>
<circle cx="495.9" cy="560.3" r="2.75"/>
<circle cx="496.3" cy="557.0" r="2.75"/>
<circle cx="496.7" cy="563.8" r="2.75"/>
<circle cx="497.1" cy="556.0" r="2.75"/>
<circle cx="497.5" cy="563.2" r="2.75"/>
<circle cx="497.8" cy="560.4" r="2.75"/>
<circle cx="498.2" cy="563.8" r="2.75"/>
<circle cx="498.6" cy="561.7" r="2.75"/>
<circle cx="499.0" cy="560.8" r="2.75"/>
<circle cx="499.3" cy="562.4" r="2.75"/>
<circle cx="499.7" cy="563.4" r="2.75"/>
<circle cx="500.1" cy="563.3" r="2.75"/>
<circle cx="500.5" cy="563.8" r="2.75"/>
<circle cx="500.8" cy="566.4" r="2.75"/>
<circle cx="501.2" cy="561.8" r="2.75"/>
<circle cx="501.6" cy="559.5" r="2.75"/>
<circle cx="502.0" cy="557.8" r="2.75"/>
<circle cx="502.3" cy="558.7" r="2.75"/>
<circle cx="502.7" cy="552.4" r="2.75"/>
<circle cx="503.1" cy="559.8" r="2.75"/>
<circle cx="503.5" cy="562.5" r="2.75"/>
<circle cx="503.8" cy="554.4" r="2.75"/>
<circle cx="504.2" cy="564.6" r="2.75"/>
<circle cx="504.6" cy="557.6" r="2.75"/>
<circle cx="505.0" cy="564.2" r="2.75"/>
<circle cx="505.3" cy="559.7" r="2.75"/>
<circle cx="505.7" cy="567.8" r="2.75"/>
<circle cx="506.1" cy="557.8" r="2.75"/>
<circle cx="506.5" cy="561.5" r="2.75"/>
<circle cx="506.8" cy="564.3" r="2.75"/>
<circle cx="507.2" cy="555.1" r="2.75"/>
<circle cx="507.6" cy="558.3" r="2.75"/>
<circle cx="508.0" cy="560.8" r="2.75"/>
<circle cx="508.3" cy="563.5" r="2.75"/>
<circle cx="508.7" cy="561.1" r="2.75"/>
<circle cx="509.1" cy="561.5" r="2.75"/>
<circle cx="509.5" cy="558.4" r="2.75"/>
<circle cx="509.8" cy="558.2" r="2.75"/>
<circle cx="510.2" cy="563.2" r="2.75"/>
<circle cx="510.6" cy="562.8" r="2.75"/>
<circle cx="511.0" cy="562.8" r="2.75"/>
<circle cx="511.3" cy="565.6" r="2.75"/>
<circle cx="511.7" cy="563.0" r="2.75"/>
<circle cx="512.1" cy="561.3" r="2.75"/>
<circle cx="512.5" cy="558.5" r="2.75"/>
<circle cx="512.8" cy="556.4" r="2.75"/>
<circle cx="513.2" cy="563.7" r="2.75"/>
<circle cx="513.6" cy="559.0" r="2.75"/>
<circle cx="514.0" cy="562.5" r="2.75"/>
<circle cx="514.3" cy="553.7" r="2.75"/>
<circle cx="514.7" cy="561.1" r="2.75"/>
<circle cx="515.1" cy="559.2" r="2.75"/>
<circle cx="515.5" cy="564.2" r="2.75"/>
<circle cx="515.8" cy="563.7" r="2.75"/>
<circle cx="516.2" cy="560.2" r="2.75"/>
<circle cx="516.6" cy="562.3" r="2.75"/>
<circle cx="517.0" cy="559.7" r="2.75"/>
<circle cx="517.3" cy="566.3" r="2.75"/>
<circle cx="517.7" cy="558.6" r="2.75"/>
<circle cx="518.1" cy="564.0" r="2.75"/>
<circle cx="518.5" cy="555.0" r="2.75"/>
<circle cx="518.8" cy="561.9" r="2.75"/>
<circle cx="519.2" cy="557.1" r="2.75"/>
<circle cx="519.6" cy="565.8" r="2.75"/>
<circle cx="520.0" cy="559.4" r="2.75"/>
<circle cx="520.3" cy="564.0" r="2.75"/>
<circle cx="520.7" cy="562.6" r="2.75"/>
<circle cx="521.1" cy="560.8" r="2.75"/>
<circle cx="521.5" cy="562.0" r="2.75"/>
<circle cx="521.8" cy="560.0" r="2.75"/>
<circle cx="522.2" cy="558.3" r="2.75"/>
<circle cx="522.6" cy="558.7" r="2.75"/>
<circle cx="523.0" cy="561.2" r="2.75"/>
<circle cx="523.3" cy="565.7" r="2.75"/>
<circle cx="523.7" cy="563.7" r="2.75"/>
<circle cx="524.1" cy="561.6" r="2.75"/>
<circle cx="524.5" cy="568.3" r="2.75"/>
<circle cx="524.8" cy="558.3" r="2.75"/>
<circle cx="525.2" cy="561.8" r="2.75"/>
<circle cx="525.6" cy="561.8" r="2.75"/>
<circle cx="526.0" cy="557.6" r="2.75"/>
<circle cx="526.3" cy="558.6" r="2.75"/>
<circle cx="526.7" cy="560.2" r="2.75"/>
<circle cx="527.1" cy="564.4" r="2.75"/>
<circle cx="527.5" cy="559.9" r="2.75"/>
<circle cx="527.8" cy="559.7" r="2.75"/>
<circle cx="528.2" cy="564.0" r="2.75"/>
<circle cx="528.6" cy="557.3" r="2.75"/>
<circle cx="529.0" cy="559.2" r="2.75"/>
<circle cx="529.3" cy="567.8" r="2.75"/>
<circle cx="529.7" cy="560.5" r="2.75"/>
<circle cx="530.1" cy="565.3" r="2.75"/>
<circle cx="530.5" cy="557.0" r="2.75"/>
<circle cx="530.8" cy="558.1" r="2.75"/>
<circle cx="531.2" cy="564.8" r="2.75"/>
<circle cx="531.6" cy="564.0" r="2.75"/>
<circle cx="532.0" cy="560.6" r="2.75"/>
<circle cx="532.4" cy="561.8" r="2.75"/>
<circle cx="532.7" cy="555.6" r="2.75"/>
<circle cx="533.1" cy="558.4" r="2.75"/>
<circle cx="533.5" cy="561.9" r="2.75"/>
<circle cx="533.9" cy="558.9" r="2.75"/>
<circle cx="534.2" cy="568.0" r="2.75"/>
<circle cx="534.6" cy="559.9" r="2.75"/>
<circle cx="535.0" cy="557.9" r="2.75"/>
<circle cx="535.4" cy="561.6" r="2.75"/>
<circle cx="535.7" cy="563.4" r="2.75"/>
<circle cx="536.1" cy="559.0" r="2.75"/>
<circle cx="536.5" cy="554.1" r="2.75"/>
<circle cx="536.9" cy="560.2" r="2.75"/>
<circle cx="537.2" cy="564.8" r="2.75"/>
<circle cx="537.6" cy="555.9" r="2.75"/>
<circle cx="538.0" cy="567.4" r="2.75"/>
<circle cx="538.4" cy="559.2" r="2.75"/>
<circle cx="538.7" cy="562.9" r="2.75"/>
<circle cx="539.1" cy="557.7" r="2.75"/>
<circle cx="539.5" cy="563.9" r="2.75"/>
<circle cx="539.9" cy="556.3" r="2.75"/>
<circle cx="540.2" cy="559.9" r="2.75"/>
<circle cx="540.6" cy="566.9" r="2.75"/>
<circle cx="541.0" cy="567.8" r="2.75"/>
<circle cx="541.4" cy="562.0" r="2.75"/>
<circle cx="541.7" cy="556.4" r="2.75"/>
<circle cx="542.1" cy="560.5" r="2.75"/>
<circle cx="542.5" cy="560.7" r="2.75"/>
<circle cx="542.9" cy="561.7" r="2.75"/>
<circle cx="543.2" cy="558.4" r="2.75"/>
<circle cx="543.6" cy="559.6" r="2.75"/>
<circle cx="544.0" cy="560.0" r="2.75"/>
<circle cx="544.4" cy="564.3" r="2.75"/>
<circle cx="544.7" cy="556.8" r="2.75"/>
<circle cx="545.1" cy="556.2" r="2.75"/>
<circle cx="545.5" cy="565.4" r="2.75"/>
<circle cx="545.9" cy="553.0" r="2.75"/>
<circle cx="546.2" cy="558.4" r="2.75"/>
<circle cx="546.6" cy="562.6" r="2.75"/>
<circle cx="547.0" cy="567.5" r="2.75"/>
<circle cx="547.4" cy="558.7" r="2.75"/>
<circle cx="547.7" cy="559.0" r="2.75"/>
<circle cx="548.1" cy="563.0" r="2.75"/>
<circle cx="548.5" cy="567.1" r="2.75"/>
<circle cx="548.9" cy="557.0" r="2.75"/>
<circle cx="549.2" cy="563.0" r="2.75"/>
<circle cx="549.6" cy="562.6" r="2.75"/>
<circle cx="550.0" cy="551.1" r="2.75"/>
<circle cx="550.4" cy="553.6" r="2.75"/>
<circle cx="550.7" cy="557.6" r="2.75"/>
<circle cx="551.1" cy="562.5" r="2.75"/>
<circle cx="551.5" cy="558.7" r="2.75"/>
<circle cx="551.9" cy="568.8" r="2.75"/>
<circle cx="552.2" cy="560.6" r="2.75"/>
<circle cx="552.6" cy="563.6" r="2.75"/>
<circle cx="553.0" cy="565.4" r="2.75"/>
<circle cx="553.4" cy="566.4" r="2.75"/>
<circle cx="553.7" cy="559.1" r="2.75"/>
<circle cx="554.1" cy="560.6" r="2.75"/>
<circle cx="554.5" cy="560.4" r="2.75"/>
<circle cx="554.9" cy="558.0" r="2.75"/>
<circle cx="555.2" cy="563.9" r="2.75"/>
<circle cx="555.6" cy="565.2" r="2.75"/>
<circle cx="556.0" cy="567.1" r="2.75"/>
<circle cx="556.4" cy="562.1" r="2.75"/>
<circle cx="556.7" cy="558.3" r="2.75"/>
<circle cx="557.1" cy="561.4" r="2.75"/>
<circle cx="557.5" cy="558.7" r="2.75"/>
<circle cx="557.9" cy="565.0" r="2.75"/>
<circle cx="558.2" cy="562.6" r="2.75"/>
<circle cx="558.6" cy="563.6" r="2.75"/>
<circle cx="559.0" cy="565.3" r="2.75"/>
<circle cx="559.4" cy="554.5" r="2.75"/>
<circle cx="559.7" cy="558.0" r="2.75"/>
<circle cx="560.1" cy="563.6" r="2.75"/>
<circle cx="560.5" cy="563.6" r="2.75"/>
<circle cx="560.9" cy="561.1" r="2.75"/>
<circle cx="561.2" cy="565.9" r="2.75"/>
<circle cx="561.6" cy="559.4" r="2.75"/>
<circle cx="562.0" cy="565.4" r="2.75"/>
<circle cx="562.4" cy="562.2" r="2.75"/>
<circle cx="562.7" cy="564.5" r="2.75"/>
<circle cx="563.1" cy="562.6" r="2.75"/>
<circle cx="563.5" cy="565.5" r="2.75"/>
<circle cx="563.9" cy="566.4" r="2.75"/>
<circle cx="564.2" cy="564.3" r="2.75"/>
<circle cx="564.6" cy="563.3" r="2.75"/>
<circle cx="565.0" cy="562.0" r="2.75"/>
<circle cx="565.4" cy="560.7" r="2.75"/>
<circle cx="565.8" cy="555.6" r="2.75"/>
<circle cx="566.1" cy="558.1" r="2.75"/>
<circle cx="566.5" cy="561.8" r="2.75"/>
<circle cx="566.9" cy="558.4" r="2.75"/>
<circle cx="567.3" cy="563.3" r="2.75"/>
<circle cx="567.6" cy="555.9" r="2.75"/>
<circle cx="568.0" cy="559.0" r="2.75"/>
<circle cx="568.4" cy="565.6" r="2.75"/>
<circle cx="568.8" cy="558.3" r="2.75"/>
<circle cx="569.1" cy="558.1" r="2.75"/>
<circle cx="569.5" cy="570.2" r="2.75"/>
<circle cx="569.9" cy="563.5" r="2.75"/>
<circle cx="570.3" cy="562.6" r="2.75"/>
<circle cx="570.6" cy="567.6" r="2.75"/>
<circle cx="571.0" cy="564.6" r="2.75"/>
<circle cx="571.4" cy="564.2" r="2.75"/>
<circle cx="571.8" cy="559.2" r="2.75"/>
<circle cx="572.1" cy="559.9" r="2.75"/>
<circle cx="572.5" cy="551.8" r="2.75"/>
<circle cx="572.9" cy="562.3" r="2.75"/>
<circle cx="573.3" cy="556.9" r="2.75"/>
<circle cx="573.6" cy="560.7" r="2.75"/>
<circle cx="574.0" cy="560.0" r="2.75"/>
<circle cx="574.4" cy="564.9" r="2.75"/>
<circle cx="574.8" cy="567.6" r="2.75"/>
<circle cx="575.1" cy="563.6" r="2.75"/>
<circle cx="575.5" cy="558.3" r="2.75"/>
<circle cx="575.9" cy="555.4" r="2.75"/>
<circle cx="576.3" cy="558.8" r="2.75"/>
<circle cx="576.6" cy="559.2" r="2.75"/>
<circle cx="577.0" cy="563.8" r="2.75"/>
<circle cx="577.4" cy="555.6" r="2.75"/>
<circle cx="577.8" cy="556.3" r="2.75"/>
<circle cx="578.1" cy="562.8" r="2.75"/>
<circle cx="578.5" cy="561.1" r="2.75"/>
<circle cx="578.9" cy="564.4" r="2.75"/>
<circle cx="579.3" cy="555.8" r="2.75"/>
<circle cx="579.6" cy="559.5" r="2.75"/>
<circle cx="580.0" cy="561.3" r="2.75"/>
<circle cx="580.4" cy="559.5" r="2.75"/>
<circle cx="580.8" cy="559.4" r="2.75"/>
<circle cx="581.1" cy="562.4" r="2.75"/>
<circle cx="581.5" cy="565.2" r="2.75"/>
<circle cx="581.9" cy="565.4" r="2.75"/>
<circle cx="582.3" cy="567.0" r="2.75"/>
<circle cx="582.6" cy="559.3" r="2.75"/>
<circle cx="583.0" cy="553.2" r="2.75"/>
<circle cx="583.4" cy="566.8" r="2.75"/>
<circle cx="583.8" cy="560.5" r="2.75"/>
<circle cx="584.1" cy="559.5" r="2.75"/>
<circle cx="584.5" cy="564.3" r="2.75"/>
<circle cx="584.9" cy="560.2" r="2.75"/>
<circle cx="585.3" cy="564.7" r="2.75"/>
<circle cx="585.6" cy="556.8" r="2.75"/>
<circle cx="586.0" cy="563.0" r="2.75"/>
<circle cx="586.4" cy="560.6" r="2.75"/>
<circle cx="586.8" cy="558.6" r="2.75"/>
<circle cx="587.1" cy="562.4" r="2.75"/>
<circle cx="587.5" cy="567.1" r="2.75"/>
<circle cx="587.9" cy="562.8" r="2.75"/>
<circle cx="588.3" cy="558.3" r="2.75"/>
<circle cx="588.6" cy="561.2" r="2.75"/>
<circle cx="589.0" cy="560.1" r="2.75"/>
<circle cx="589.4" cy="564.7" r="2.75"/>
<circle cx="589.8" cy="560.4" r="2.75"/>
<circle cx="590.1" cy="558.4" r="2.75"/>
<circle cx="590.5" cy="560.8" r="2.75"/>
<circle cx="590.9" cy="554.3" r="2.75"/>
<circle cx="591.3" cy="561.7" r="2.75"/>
<circle cx="591.6" cy="564.5" r="2.75"/>
<circle cx="592.0" cy="566.5" r="2.75"/>
<circle cx="592.4" cy="556.9" r="2.75"/>
<circle cx="592.8" cy="561.1" r="2.75"/>
<circle cx="593.1" cy="557.4" r="2.75"/>
<circle cx="593.5" cy="559.3" r="2.75"/>
<circle cx="593.9" cy="555.3" r="2.75"/>
<circle cx="594.3" cy="556.5" r="2.75"/>
<circle cx="594.6" cy="562.2" r="2.75"/>
<circle cx="595.0" cy="560.0" r="2.75"/>
<circle cx="595.4" cy="557.2" r="2.75"/>
<circle cx="595.8" cy="565.2" r="2.75"/>
<circle cx="596.1" cy="555.9" r="2.75"/>
<circle cx="596.5" cy="556.7" r="2.75"/>
<circle cx="596.9" cy="557.5" r="2.75"/>
<circle cx="597.3" cy="561.6" r="2.75"/>
<circle cx="597.6" cy="559.9" r="2.75"/>
<circle cx="598.0" cy="564.8" r="2.75"/>
<circle cx="598.4" cy="560.7" r="2.75"/>
<circle cx="598.8" cy="563.0" r="2.75"/>
<circle cx="599.1" cy="560.6" r="2.75"/>
<circle cx="599.5" cy="562.6" r="2.75"/>
<circle cx="599.9" cy="559.9" r="2.75"/>
<circle cx="600.3" cy="556.8" r="2.75"/>
<circle cx="600.7" cy="565.5" r="2.75"/>
<circle cx="601.0" cy="557.7" r="2.75"/>
<circle cx="601.4" cy="567.8" r="2.75"/>
<circle cx="601.8" cy="568.4" r="2.75"/>
<circle cx="602.2" cy="561.3" r="2.75"/>
<circle cx="602.5" cy="560.9" r="2.75"/>
<circle cx="602.9" cy="559.4" r="2.75"/>
<circle cx="603.3" cy="566.6" r="2.75"/>
<circle cx="603.7" cy="561.1" r="2.75"/>
<circle cx="604.0" cy="560.5" r="2.75"/>
<circle cx="604.4" cy="556.6" r="2.75"/>
<circle cx="604.8" cy="561.3" r="2.75"/>
<circle cx="605.2" cy="559.1" r="2.75"/>
<circle cx="605.5" cy="564.3" r="2.75"/>
<circle cx="605.9" cy="561.6" r="2.75"/>
<circle cx="606.3" cy="562.5" r="2.75"/>
<circle cx="606.7" cy="558.5" r="2.75"/>
<circle cx="607.0" cy="564.4" r="2.75"/>
<circle cx="607.4" cy="563.8" r="2.75"/>
<circle cx="607.8" cy="558.9" r="2.75"/>
<circle cx="608.2" cy="554.7" r="2.75"/>
<circle cx="608.5" cy="559.6" r="2.75"/>
<circle cx="608.9" cy="559.9" r="2.75"/>
<circle cx="609.3" cy="562.1" r="2.75"/>
<circle cx="609.7" cy="557.2" r="2.75"/>
<circle cx="610.0" cy="559.1" r="2.75"/>
<circle cx="610.4" cy="554.9" r="2.75"/>
<circle cx="610.8" cy="559.8" r="2.75"/>
<circle cx="611.2" cy="564.2" r="2.75"/>
<circle cx="611.5" cy="562.9" r="2.75"/>
<circle cx="611.9" cy="564.4" r="2.75"/>
<circle cx="612.3" cy="565.3" r="2.75"/>
<circle cx="612.7" cy="556.6" r="2.75"/>
<circle cx="613.0" cy="558.1" r="2.75"/>
<circle cx="613.4" cy="565.2" r="2.75"/>
<circle cx="613.8" cy="554.8" r="2.75"/>
<circle cx="614.2" cy="560.1" r="2.75"/>
<circle cx="614.5" cy="564.2" r="2.75"/>
<circle cx="614.9" cy="559.6" r="2.75"/>
<circle cx="615.3" cy="561.2" r="2.75"/>
<circle cx="615.7" cy="563.6" r="2.75"/>
<circle cx="616.0" cy="567.7" r="2.75"/>
<circle cx="616.4" cy="560.8" r="2.75"/>
<circle cx="616.8" cy="559.9" r="2.75"/>
<circle cx="617.2" cy="569.9" r="2.75"/>
<circle cx="617.5" cy="559.0" r="2.75"/>
<circle cx="617.9" cy="558.8" r="2.75"/>
<circle cx="618.3" cy="562.6" r="2.75"/>
<circle cx="618.7" cy="560.5" r="2.75"/>
<circle cx="619.0" cy="561.9" r="2.75"/>
<circle cx="619.4" cy="563.8" r="2.75"/>
<circle cx="619.8" cy="562.2" r="2.75"/>
<circle cx="620.2" cy="556.3" r="2.75"/>
<circle cx="620.5" cy="566.0" r="2.75"/>
<circle cx="620.9" cy="560.1" r="2.75"/>
<circle cx="621.3" cy="560.3" r="2.75"/>
<circle cx="621.7" cy="563.4" r="2.75"/>
<circle cx="622.0" cy="562.5" r="2.75"/>
<circle cx="622.4" cy="565.8" r="2.75"/>
<circle cx="622.8" cy="563.9" r="2.75"/>
<circle cx="623.2" cy="560.9" r="2.75"/>
<circle cx="623.5" cy="559.8" r="2.75"/>
<circle cx="623.9" cy="564.0" r="2.75"/>
<circle cx="624.3" cy="550.3" r="2.75"/>
<circle cx="624.7" cy="562.9" r="2.75"/>
<circle cx="625.0" cy="560.5" r="2.75"/>
<circle cx="625.4" cy="561.7" r="2.75"/>
<circle cx="625.8" cy="562.3" r="2.75"/>
<circle cx="626.2" cy="556.4" r="2.75"/>
<circle cx="626.5" cy="562.6" r="2.75"/>
<circle cx="626.9" cy="556.3" r="2.75"/>
<circle cx="627.3" cy="557.0" r="2.75"/>
<circle cx="627.7" cy="564.6" r="2.75"/>
<circle cx="628.0" cy="557.3" r="2.75"/>
<circle cx="628.4" cy="563.2" r="2.75"/>
<circle cx="628.8" cy="551.5" r="2.75"/>
<circle cx="629.2" cy="562.3" r="2.75"/>
<circle cx="629.5" cy="564.2" r="2.75"/>
<circle cx="629.9" cy="567.6" r="2.75"/>
<circle cx="630.3" cy="565.4" r="2.75"/>
<circle cx="630.7" cy="562.9" r="2.75"/>
<circle cx="631.0" cy="564.4" r="2.75"/>
<circle cx="631.4" cy="565.2" r="2.75"/>
<circle cx="631.8" cy="563.3" r="2.75"/>
<circle cx="632.2" cy="561.6" r="2.75"/>
<circle cx="632.5" cy="555.9" r="2.75"/>
<circle cx="632.9" cy="566.8" r="2.75"/>
<circle cx="633.3" cy="562.8" r="2.75"/>
<circle cx="633.7" cy="564.2" r="2.75"/>
<circle cx="634.1" cy="566.2" r="2.75"/>
<circle cx="634.4" cy="565.3" r="2.75"/>
<circle cx="634.8" cy="564.1" r="2.75"/>
<circle cx="635.2" cy="558.4" r="2.75"/>
<circle cx="635.6" cy="561.6" r="2.75"/>
<circle cx="635.9" cy="562.8" r="2.75"/>
<circle cx="636.3" cy="558.8" r="2.75"/>
<circle cx="636.7" cy="560.0" r="2.75"/>
<circle cx="637.1" cy="561.7" r="2.75"/>
<circle cx="637.4" cy="559.6" r="2.75"/>
<circle cx="637.8" cy="563.8" r="2.75"/>
<circle cx="638.2" cy="558.8" r="2.75"/>
<circle cx="638.6" cy="559.3" r="2.75"/>
<circle cx="638.9" cy="562.4" r="2.75"/>
<circle cx="639.3" cy="565.2" r="2.75"/>
<circle cx="639.7" cy="555.7" r="2.75"/>
<circle cx="640.1" cy="560.6" r="2.75"/>
<circle cx="640.4" cy="550.4" r="2.75"/>
<circle cx="640.8" cy="563.2" r="2.75"/>
<circle cx="641.2" cy="558.0" r="2.75"/>
<circle cx="641.6" cy="562.4" r="2.75"/>
<circle cx="641.9" cy="560.1" r="2.75"/>
<circle cx="642.3" cy="558.0" r="2.75"/>
<circle cx="642.7" cy="563.7" r="2.75"/>
<circle cx="643.1" cy="561.3" r="2.75"/>
<circle cx="643.4" cy="560.4" r="2.75"/>
<circle cx="643.8" cy="560.5" r="2.75"/>
<circle cx="644.2" cy="558.9" r="2.75"/>
<circle cx="644.6" cy="557.4" r="2.75"/>
<circle cx="644.9" cy="558.0" r="2.75"/>
<circle cx="645.3" cy="560.0" r="2.75"/>
<circle cx="645.7" cy="562.1" r="2.75"/>
<circle cx="646.1" cy="564.8" r="2.75"/>
<circle cx="646.4" cy="563.5" r="2.75"/>
<circle cx="646.8" cy="562.8" r="2.75"/>
<circle cx="647.2" cy="558.6" r="2.75"/>
<circle cx="647.6" cy="562.2" r="2.75"/>
<circle cx="647.9" cy="565.2" r="2.75"/>
<circle cx="648.3" cy="558.8" r="2.75"/>
<circle cx="648.7" cy="563.7" r="2.75"/>
<circle cx="649.1" cy="563.6" r="2.75"/>
<circle cx="649.4" cy="561.7" r="2.75"/>
<circle cx="649.8" cy="559.3" r="2.75"/>
<circle cx="650.2" cy="569.3" r="2.75"/>
<circle cx="650.6" cy="564.8" r="2.75"/>
<circle cx="650.9" cy="560.3" r="2.75"/>
<circle cx="651.3" cy="562.2" r="2.75"/>
<circle cx="651.7" cy="563.9" r="2.75"/>
<circle cx="652.1" cy="562.8" r="2.75"/>
<circle cx="652.4" cy="556.1" r="2.75"/>
<circle cx="652.8" cy="562.5" r="2.75"/>
<circle cx="653.2" cy="558.5" r="2.75"/>
<circle cx="653.6" cy="558.2" r="2.75"/>
<circle cx="653.9" cy="562.5" r="2.75"/>
<circle cx="654.3" cy="559.4" r="2.75"/>
<circle cx="654.7" cy="562.5" r="2.75"/>
<circle cx="655.1" cy="563.0" r="2.75"/>
<circle cx="655.4" cy="564.8" r="2.75"/>
<circle cx="655.8" cy="557.9" r="2.75"/>
<circle cx="656.2" cy="562.3" r="2.75"/>
<circle cx="656.6" cy="562.8" r="2.75"/>
<circle cx="656.9" cy="564.8" r="2.75"/>
<circle cx="657.3" cy="554.7" r="2.75"/>
<circle cx="657.7" cy="558.4" r="2.75"/>
<circle cx="658.1" cy="561.4" r="2.75"/>
<circle cx="658.4" cy="563.3" r="2.75"/>
<circle cx="658.8" cy="566.2" r="2.75"/>
<circle cx="659.2" cy="559.9" r="2.75"/>
<circle cx="659.6" cy="559.9" r="2.75"/>
<circle cx="659.9" cy="565.8" r="2.75"/>
<circle cx="660.3" cy="556.9" r="2.75"/>
<circle cx="660.7" cy="558.2" r="2.75"/>
<circle cx="661.1" cy="564.3" r="2.75"/>
<circle cx="661.4" cy="562.9" r="2.75"/>
<circle cx="661.8" cy="562.4" r="2.75"/>
<circle cx="662.2" cy="560.4" r="2.75"/>
<circle cx="662.6" cy="561.4" r="2.75"/>
<circle cx="662.9" cy="566.6" r="2.75"/>
<circle cx="663.3" cy="555.8" r="2.75"/>
<circle cx="663.7" cy="559.8" r="2.75"/>
<circle cx="664.1" cy="556.6" r="2.75"/>
<circle cx="664.4" cy="556.6" r="2.75"/>
<circle cx="664.8" cy="561.7" r="2.75"/>
<circle cx="665.2" cy="559.7" r="2.75"/>
<circle cx="665.6" cy="558.4" r="2.75"/>
<circle cx="665.9" cy="558.3" r="2.75"/>
<circle cx="666.3" cy="561.5" r="2.75"/>
<circle cx="666.7" cy="563.1" r="2.75"/>
<circle cx="667.1" cy="560.8" r="2.75"/>
<circle cx="667.5" cy="563.7" r="2.75"/>
<circle cx="667.8" cy="562.9" r="2.75"/>
<circle cx="668.2" cy="568.0" r="2.75"/>
<circle cx="668.6" cy="560.6" r="2.75"/>
<circle cx="669.0" cy="564.5" r="2.75"/>
<circle cx="669.3" cy="562.9" r="2.75"/>
<circle cx="669.7" cy="561.1" r="2.75"/>
<circle cx="670.1" cy="559.8" r="2.75"/>
<circle cx="670.5" cy="554.4" r="2.75"/>
<circle cx="670.8" cy="560.2" r="2.75"/>
<circle cx="671.2" cy="565.8" r="2.75"/>
<circle cx="671.6" cy="560.5" r="2.75"/>
<circle cx="672.0" cy="563.0" r="2.75"/>
<circle cx="672.3" cy="559.5" r="2.75"/>
<circle cx="672.7" cy="563.3" r="2.75"/>
<circle cx="673.1" cy="563.4" r="2.75"/>
<circle cx="673.5" cy="562.7" r="2.75"/>
<circle cx="673.8" cy="563.1" r="2.75"/>
<circle cx="674.2" cy="567.3" r="2.75"/>
<circle cx="674.6" cy="563.2" r="2.75"/>
<circle cx="675.0" cy="561.0" r="2.75"/>
<circle cx="675.3" cy="556.8" r="2.75"/>
<circle cx="675.7" cy="561.9" r="2.75"/>
<circle cx="676.1" cy="562.2" r="2.75"/>
<circle cx="676.5" cy="558.9" r="2.75"/>
<circle cx="676.8" cy="559.1" r="2.75"/>
<circle cx="677.2" cy="555.4" r="2.75"/>
<circle cx="677.6" cy="558.9" r="2.75"/>
<circle cx="678.0" cy="561.0" r="2.75"/>
<circle cx="678.3" cy="556.3" r="2.75"/>
<circle cx="678.7" cy="555.6" r="2.75"/>
<circle cx="679.1" cy="562.6" r="2.75"/>
<circle cx="679.5" cy="560.4" r="2.75"/>
<circle cx="679.8" cy="566.8" r="2.75"/>
<circle cx="680.2" cy="562.2" r="2.75"/>
<circle cx="680.6" cy="564.0" r="2.75"/>
<circle cx="681.0" cy="561.7" r="2.75"/>
<circle cx="681.3" cy="562.6" r="2.75"/>
<circle cx="681.7" cy="561.5" r="2.75"/>
<circle cx="682.1" cy="561.3" r="2.75"/>
<circle cx="682.5" cy="559.2" r="2.75"/>
<circle cx="682.8" cy="560.1" r="2.75"/>
<circle cx="683.2" cy="562.9" r="2.75"/>
<circle cx="683.6" cy="565.4" r="2.75"/>
<circle cx="684.0" cy="556.7" r="2.75"/>
<circle cx="684.3" cy="556.0" r="2.75"/>
<circle cx="684.7" cy="562.5" r="2.75"/>
<circle cx="685.1" cy="559.0" r="2.75"/>
<circle cx="685.5" cy="566.2" r="2.75"/>
<circle cx="685.8" cy="566.3" r="2.75"/>
<circle cx="686.2" cy="561.9" r="2.75"/>
<circle cx="686.6" cy="555.8" r="2.75"/>
<circle cx="687.0" cy="564.6" r="2.75"/>
<circle cx="687.3" cy="563.8" r="2.75"/>
<circle cx="687.7" cy="555.4" r="2.75"/>
<circle cx="688.1" cy="567.5" r="2.75"/>
<circle cx="688.5" cy="558.7" r="2.75"/>
<circle cx="688.8" cy="559.2" r="2.75"/>
<circle cx="689.2" cy="561.6" r="2.75"/>
<circle cx="689.6" cy="560.3" r="2.75"/>
<circle cx="690.0" cy="551.9" r="2.75"/>
<circle cx="690.3" cy="564.8" r="2.75"/>
<circle cx="690.7" cy="562.0" r="2.75"/>
<circle cx="691.1" cy="561.8" r="2.75"/>
<circle cx="691.5" cy="563.3" r="2.75"/>
<circle cx="691.8" cy="565.6" r="2.75"/>
<circle cx="692.2" cy="555.4" r="2.75"/>
<circle cx="692.6" cy="560.2" r="2.75"/>
<circle cx="693.0" cy="567.0" r="2.75"/>
<circle cx="693.3" cy="563.4" r="2.75"/>
<circle cx="693.7" cy="559.5" r="2.75"/>
<circle cx="694.1" cy="559.5" r="2.75"/>
<circle cx="694.5" cy="565.9" r="2.75"/>
<circle cx="694.8" cy="561.2" r="2.75"/>
<circle cx="695.2" cy="560.0" r="2.75"/>
<circle cx="695.6" cy="559.6" r="2.75"/>
<circle cx="696.0" cy="559.6" r="2.75"/>
<circle cx="696.3" cy="567.2" r="2.75"/>
<circle cx="696.7" cy="554.5" r="2.75"/>
<circle cx="697.1" cy="560.2" r="2.75"/>
<circle cx="697.5" cy="554.7" r="2.75"/>
<circle cx="697.8" cy="551.0" r="2.75"/>
<circle cx="698.2" cy="561.5" r="2.75"/>
<circle cx="698.6" cy="565.2" r="2.75"/>
<circle cx="699.0" cy="557.9" r="2.75"/>
<circle cx="699.3" cy="561.6" r="2.75"/>
<circle cx="699.7" cy="562.5" r="2.75"/>
<circle cx="700.1" cy="564.5" r="2.75"/>
<circle cx="700.5" cy="555.1" r="2.75"/>
<circle cx="700.8" cy="562.5" r="2.75"/>
<circle cx="701.2" cy="565.8" r="2.75"/>
<circle cx="701.6" cy="562.5" r="2.75"/>
<circle cx="702.0" cy="564.9" r="2.75"/>
<circle cx="702.4" cy="560.4" r="2.75"/>
<circle cx="702.7" cy="562.4" r="2.75"/>
<circle cx="703.1" cy="564.6" r="2.75"/>
<circle cx="703.5" cy="558.8" r="2.75"/>
<circle cx="703.9" cy="563.2" r="2.75"/>
<circle cx="704.2" cy="558.4" r="2.75"/>
<circle cx="704.6" cy="556.6" r="2.75"/>
<circle cx="705.0" cy="562.2" r="2.75"/>
<circle cx="705.4" cy="563.2" r="2.75"/>
<circle cx="705.7" cy="560.2" r="2.75"/>
<circle cx="706.1" cy="557.8" r="2.75"/>
<circle cx="706.5" cy="560.9" r="2.75"/>
<circle cx="706.9" cy="560.4" r="2.75"/>
<circle cx="707.2" cy="561.0" r="2.75"/>
<circle cx="707.6" cy="559.9" r="2.75"/>
<circle cx="708.0" cy="558.8" r="2.75"/>
<circle cx="708.4" cy="563.4" r="2.75"/>
<circle cx="708.7" cy="562.6" r="2.75"/>
<circle cx="709.1" cy="560.8" r="2.75"/>
<circle cx="709.5" cy="563.2" r="2.75"/>
<circle cx="709.9" cy="560.5" r="2.75"/>
<circle cx="710.2" cy="559.1" r="2.75"/>
<circle cx="710.6" cy="561.0" r="2.75"/>
<circle cx="711.0" cy="563.0" r="2.75"/>
<circle cx="711.4" cy="563.6" r="2.75"/>
<circle cx="711.7" cy="554.9" r="2.75"/>
<circle cx="712.1" cy="557.9" r="2.75"/>
<circle cx="712.5" cy="564.8" r="2.75"/>
<circle cx="712.9" cy="563.8" r="2.75"/>
<circle cx="713.2" cy="554.4" r="2.75"/>
<circle cx="713.6" cy="555.7" r="2.75"/>
<circle cx="714.0" cy="560.5" r="2.75"/>
<circle cx="714.4" cy="556.9" r="2.75"/>
<circle cx="714.7" cy="566.1" r="2.75"/>
<circle cx="715.1" cy="560.9" r="2.75"/>
<circle cx="715.5" cy="558.4" r="2.75"/>
<circle cx="715.9" cy="567.4" r="2.75"/>
<circle cx="716.2" cy="563.6" r="2.75"/>
<circle cx="716.6" cy="558.2" r="2.75"/>
<circle cx="717.0" cy="557.0" r="2.75"/>
<circle cx="717.4" cy="563.0" r="2.75"/>
<circle cx="717.7" cy="559.9" r="2.75"/>
<circle cx="718.1" cy="555.4" r="2.75"/>
<circle cx="463.3" cy="654.2" r="2.75"/>
<circle cx="463.7" cy="655.3" r="2.75"/>
<circle cx="464.2" cy="653.8" r="2.75"/>
<circle cx="464.6" cy="654.2" r="2.75"/>
<circle cx="465.0" cy="652.2" r="2.75"/>
<circle cx="465.4" cy="653.5" r="2.75"/>
<circle cx="465.9" cy="654.7" r="2.75"/>
<circle cx="466.3" cy="650.8" r="2.75"/>
<circle cx="466.7" cy="654.3" r="2.75"/>
<circle cx="467.1" cy="653.1" r="2.75"/>
<circle cx="467.6" cy="652.9" r="2.75"/>
<circle cx="468.0" cy="652.8" r="2.75"/>
<circle cx="468.4" cy="653.5" r="2.75"/>
<circle cx="468.8" cy="653.0" r="2.75"/>
<circle cx="469.3" cy="653.8" r="2.75"/>
<circle cx="469.7" cy="655.4" r="2.75"/>
<circle cx="470.1" cy="654.0" r="2.75"/>
<circle cx="470.5" cy="653.9" r="2.75"/>
<circle cx="471.0" cy="653.9" r="2.75"/>
<circle cx="471.4" cy="653.5" r="2.75"/>
<circle cx="471.8" cy="654.4" r="2.75"/>
<circle cx="472.2" cy="652.1" r="2.75"/>
<circle cx="472.7" cy="651.8" r="2.75"/>
<circle cx="473.1" cy="656.3" r="2.75"/>
<circle cx="473.5" cy="653.7" r="2.75"/>
<circle cx="473.9" cy="654.5" r="2.75"/>
<circle cx="474.4" cy="656.8" r="2.75"/>
<circle cx="474.8" cy="653.2" r="2.75"/>
<circle cx="475.2" cy="654.4" r="2.75"/>
<circle cx="475.6" cy="654.1" r="2.75"/>
<circle cx="476.1" cy="654.5" r="2.75"/>
<circle cx="476.5" cy="652.4" r="2.75"/>
<circle cx="476.9" cy="652.2" r="2.75"/>
<circle cx="477.3" cy="653.4" r="2.75"/>
<circle cx="477.8" cy="652.9" r="2.75"/>
<circle cx="478.2" cy="653.8" r="2.75"/>
<circle cx="478.6" cy="653.5" r="2.75"/>
<circle cx="479.0" cy="654.6" r="2.75"/>
<circle cx="479.5" cy="653.7" r="2.75"/>
<circle cx="479.9" cy="654.6" r="2.75"/>
<circle cx="480.3" cy="653.3" r="2.75"/>
<circle cx="480.7" cy="652.7" r="2.75"/>
<circle cx="481.2" cy="653.3" r="2.75"/>
<circle cx="481.6" cy="652.3" r="2.75"/>
<circle cx="482.0" cy="650.5" r="2.75"/>
<circle cx="482.4" cy="656.2" r="2.75"/>
<circle cx="482.9" cy="653.7" r="2.75"/>
<circle cx="483.3" cy="654.4" r="2.75"/>
<circle cx="483.7" cy="654.2" r="2.75"/>
<circle cx="484.1" cy="655.3" r="2.75"/>
<circle cx="484.6" cy="653.6" r="2.75"/>
<circle cx="485.0" cy="654.0" r="2.75"/>
<circle cx="485.4" cy="654.5" r="2.75"/>
<circle cx="485.8" cy="654.0" r="2.75"/>
<circle cx="486.3" cy="654.4" r="2.75"/>
<circle cx="486.7" cy="656.5" r="2.75"/>
<circle cx="487.1" cy="652.4" r="2.75"/>
<circle cx="487.5" cy="654.1" r="2.75"/>
<circle cx="488.0" cy="654.8" r="2.75"/>
<circle cx="488.4" cy="653.3" r="2.75"/>
<circle cx="488.8" cy="654.5" r="2.75"/>
<circle cx="489.2" cy="656.3" r="2.75"/>
<circle cx="489.7" cy="652.6" r="2.75"/>
<circle cx="490.1" cy="655.7" r="2.75"/>
<circle cx="490.5" cy="654.0" r="2.75"/>
<circle cx="491.0" cy="653.6" r="2.75"/>
<circle cx="491.4" cy="652.1" r="2.75"/>
<circle cx="491.8" cy="652.3" r="2.75"/>
<circle cx="492.2" cy="653.5" r="2.75"/>
<circle cx="492.7" cy="654.6" r="2.75"/>
<circle cx="493.1" cy="654.2" r="2.75"/>
<circle cx="493.5" cy="652.4" r="2.75"/>
<circle cx="493.9" cy="651.6" r="2.75"/>
<circle cx="494.4" cy="653.1" r="2.75"/>
<circle cx="494.8" cy="654.5" r="2.75"/>
<circle cx="495.2" cy="652.5" r="2.75"/>
<circle cx="495.6" cy="654.1" r="2.75"/>
<circle cx="496.1" cy="654.2" r="2.75"/>
<circle cx="496.5" cy="654.0" r="2.75"/>
<circle cx="496.9" cy="653.0" r="2.75"/>
<circle cx="497.3" cy="653.4" r="2.75"/>
<circle cx="497.8" cy="652.5" r="2.75"/>
<circle cx="498.2" cy="652.2" r="2.75"/>
<circle cx="498.6" cy="653.1" r="2.75"/>
<circle cx="499.0" cy="656.5" r="2.75"/>
<circle cx="499.5" cy="655.7" r="2.75"/>
<circle cx="499.9" cy="653.5" r="2.75"/>
<circle cx="500.3" cy="653.8" r="2.75"/>
<circle cx="500.7" cy="651.1" r="2.75"/>
<circle cx="501.2" cy="653.7" r="2.75"/>
<circle cx="501.6" cy="653.9" r="2.75"/>
<circle cx="502.0" cy="652.6" r="2.75"/>
<circle cx="502.4" cy="652.4" r="2.75"/>
<circle cx="502.9" cy="654.0" r="2.75"/>
<circle cx="503.3" cy="653.1" r="2.75"/>
<circle cx="503.7" cy="655.1" r="2.75"/>
<circle cx="504.1" cy="654.8" r="2.75"/>
<circle cx="504.6" cy="652.2" r="2.75"/>
<circle cx="505.0" cy="655.4" r="2.75"/>
<circle cx="505.4" cy="652.6" r="2.75"/>
<circle cx="505.8" cy="652.9" r="2.75"/>
<circle cx="506.3" cy="652.8" r="2.75"/>
<circle cx="506.7" cy="652.6" r="2.75"/>
<circle cx="507.1" cy="653.0" r="2.75"/>
<circle cx="507.5" cy="656.3" r="2.75"/>
<circle cx="508.0" cy="654.9" r="2.75"/>
<circle cx="508.4" cy="654.4" r="2.75"/>
<circle cx="508.8" cy="652.6" r="2.75"/>
<circle cx="509.2" cy="655.0" r="2.75"/>
<circle cx="509.7" cy="654.5" r="2.75"/>
<circle cx="510.1" cy="654.1" r="2.75"/>
<circle cx="510.5" cy="652.1" r="2.75"/>
<circle cx="510.9" cy="655.4" r="2.75"/>
<circle cx="511.4" cy="655.3" r="2.75"/>
<circle cx="511.8" cy="653.0" r="2.75"/>
<circle cx="512.2" cy="656.2" r="2.75"/>
<circle cx="512.6" cy="653.3" r="2.75"/>
<circle cx="513.1" cy="654.2" r="2.75"/>
<circle cx="513.5" cy="655.6" r="2.75"/>
<circle cx="513.9" cy="654.2" r="2.75"/>
<circle cx="514.3" cy="654.9" r="2.75"/>
<circle cx="514.8" cy="653.5" r="2.75"/>
<circle cx="515.2" cy="653.3" r="2.75"/>
<circle cx="515.6" cy="651.9" r="2.75"/>
<circle cx="516.0" cy="653.7" r="2.75"/>
<circle cx="516.5" cy="653.6" r="2.75"/>
<circle cx="516.9" cy="654.4" r="2.75"/>
<circle cx="517.3" cy="653.7" r="2.75"/>
<circle cx="517.8" cy="652.5" r="2.75"/>
<circle cx="518.2" cy="656.0" r="2.75"/>
<circle cx="518.6" cy="652.9" r="2.75"/>
<circle cx="519.0" cy="654.3" r="2.75"/>
<circle cx="519.5" cy="653.6" r="2.75"/>
<circle cx="519.9" cy="653.3" r="2.75"/>
<circle cx="520.3" cy="652.7" r="2.75"/>
<circle cx="520.7" cy="653.4" r="2.75"/>
<circle cx="521.2" cy="654.2" r="2.75"/>
<circle cx="521.6" cy="653.3" r="2.75"/>
<circle cx="522.0" cy="653.7" r="2.75"/>
<circle cx="522.4" cy="653.9" r="2.75"/>
<circle cx="522.9" cy="653.5" r="2.75"/>
<circle cx="523.3" cy="652.7" r="2.75"/>
<circle cx="523.7" cy="653.5" r="2.75"/>
<circle cx="524.1" cy="653.5" r="2.75"/>
<circle cx="524.6" cy="655.2" r="2.75"/>
<circle cx="525.0" cy="653.9" r="2.75"/>
<circle cx="525.4" cy="655.9" r="2.75"/>
<circle cx="525.8" cy="652.8" r="2.75"/>
<circle cx="526.3" cy="654.8" r="2.75"/>
<circle cx="526.7" cy="652.2" r="2.75"/>
<circle cx="527.1" cy="650.1" r="2.75"/>
<circle cx="527.5" cy="654.2" r="2.75"/>
<circle cx="528.0" cy="652.1" r="2.75"/>
<circle cx="528.4" cy="653.2" r="2.75"/>
<circle cx="528.8" cy="654.4" r="2.75"/>
<circle cx="529.2" cy="654.7" r="2.75"/>
<circle cx="529.7" cy="653.0" r="2.75"/>
<circle cx="530.1" cy="652.0" r="2.75"/>
<circle cx="530.5" cy="653.3" r="2.75"/>
<circle cx="530.9" cy="655.5" r="2.75"/>
<circle cx="531.4" cy="654.9" r="2.75"/>
<circle cx="531.8" cy="654.0" r="2.75"/>
<circle cx="532.2" cy="652.1" r="2.75"/>
<circle cx="532.6" cy="653.4" r="2.75"/>
<circle cx="533.1" cy="653.3" r="2.75"/>
<circle cx="533.5" cy="652.3" r="2.75"/>
<circle cx="533.9" cy="653.9" r="2.75"/>
<circle cx="534.3" cy="653.8" r="2.75"/>
<circle cx="534.8" cy="653.9" r="2.75"/>
<circle cx="535.2" cy="655.8" r="2.75"/>
<circle cx="535.6" cy="653.1" r="2.75"/>
<circle cx="536.0" cy="653.2" r="2.75"/>
<circle cx="536.5" cy="652.5" r="2.75"/>
<circle cx="536.9" cy="655.1" r="2.75"/>
<circle cx="537.3" cy="654.7" r="2.75"/>
<circle cx="537.7" cy="652.6" r="2.75"/>
<circle cx="538.2" cy="653.3" r="2.75"/>
<circle cx="538.6" cy="652.1" r="2.75"/>
<circle cx="539.0" cy="654.7" r="2.75"/>
<circle cx="539.4" cy="653.5" r="2.75"/>
<circle cx="539.9" cy="654.5" r="2.75"/>
<circle cx="540.3" cy="653.3" r="2.75"/>
<circle cx="540.7" cy="654.3" r="2.75"/>
<circle cx="541.1" cy="653.1" r="2.75"/>
<circle cx="541.6" cy="652.4" r="2.75"/>
<circle cx="542.0" cy="652.9" r="2.75"/>
<circle cx="542.4" cy="655.9" r="2.75"/>
<circle cx="542.8" cy="652.6" r="2.75"/>
<circle cx="543.3" cy="653.2" r="2.75"/>
<circle cx="543.7" cy="654.9" r="2.75"/>
<circle cx="544.1" cy="654.8" r="2.75"/>
<circle cx="544.6" cy="653.7" r="2.75"/>
<circle cx="545.0" cy="653.0" r="2.75"/>
<circle cx="545.4" cy="654.2" r="2.75"/>
<circle cx="545.8" cy="655.6" r="2.75"/>
<circle cx="546.3" cy="653.4" r="2.75"/>
<circle cx="546.7" cy="653.5" r="2.75"/>
<circle cx="547.1" cy="650.8" r="2.75"/>
<circle cx="547.5" cy="655.2" r="2.75"/>
<circle cx="548.0" cy="650.7" r="2.75"/>
<circle cx="548.4" cy="651.6" r="2.75"/>
<circle cx="548.8" cy="653.3" r="2.75"/>
<circle cx="549.2" cy="651.7" r="2.75"/>
<circle cx="549.7" cy="653.6" r="2.75"/>
<circle cx="550.1" cy="652.5" r="2.75"/>
<circle cx="550.5" cy="654.6" r="2.75"/>
<circle cx="550.9" cy="653.6" r="2.75"/>
<circle cx="551.4" cy="654.9" r="2.75"/>
<circle cx="551.8" cy="655.6" r="2.75"/>
<circle cx="552.2" cy="654.0" r="2.75"/>
<circle cx="552.6" cy="654.5" r="2.75"/>
<circle cx="553.1" cy="653.0" r="2.75"/>
<circle cx="553.5" cy="652.2" r="2.75"/>
<circle cx="553.9" cy="653.9" r="2.75"/>
<circle cx="554.3" cy="653.6" r="2.75"/>
<circle cx="554.8" cy="653.5" r="2.75"/>
<circle cx="555.2" cy="655.7" r="2.75"/>
<circle cx="555.6" cy="653.4" r="2.75"/>
<circle cx="556.0" cy="653.7" r="2.75"/>
<circle cx="556.5" cy="653.8" r="2.75"/>
<circle cx="556.9" cy="655.0" r="2.75"/>
<circle cx="557.3" cy="656.1" r="2.75"/>
<circle cx="557.7" cy="654.0" r="2.75"/>
<circle cx="558.2" cy="653.3" r="2.75"/>
<circle cx="558.6" cy="652.1" r="2.75"/>
<circle cx="559.0" cy="652.4" r="2.75"/>
<circle cx="559.4" cy="652.0" r="2.75"/>
<circle cx="559.9" cy="653.3" r="2.75"/>
<circle cx="560.3" cy="652.3" r="2.75"/>
<circle cx="560.7" cy="653.9" r="2.75"/>
<circle cx="561.1" cy="653.0" r="2.75"/>
<circle cx="561.6" cy="652.6" r="2.75"/>
<circle cx="562.0" cy="650.5" r="2.75"/>
<circle cx="562.4" cy="653.4" r="2.75"/>
<circle cx="562.8" cy="655.2" r="2.75"/>
<circle cx="563.3" cy="652.1" r="2.75"/>
<circle cx="563.7" cy="654.6" r="2.75"/>
<circle cx="564.1" cy="653.8" r="2.75"/>
<circle cx="564.5" cy="654.1" r="2.75"/>
<circle cx="565.0" cy="654.8" r="2.75"/>
<circle cx="565.4" cy="652.1" r="2.75"/>
<circle cx="565.8" cy="653.0" r="2.75"/>
<circle cx="566.2" cy="654.4" r="2.75"/>
<circle cx="566.7" cy="653.6" r="2.75"/>
<circle cx="567.1" cy="654.2" r="2.75"/>
<circle cx="567.5" cy="653.0" r="2.75"/>
<circle cx="567.9" cy="654.2" r="2.75"/>
<circle cx="568.4" cy="654.6" r="2.75"/>
<circle cx="568.8" cy="654.5" r="2.75"/>
<circle cx="569.2" cy="654.2" r="2.75"/>
<circle cx="569.6" cy="653.4" r="2.75"/>
<circle cx="570.1" cy="654.8" r="2.75"/>
<circle cx="570.5" cy="653.8" r="2.75"/>
<circle cx="570.9" cy="653.2" r="2.75"/>
<circle cx="571.4" cy="650.9" r="2.75"/>
<circle cx="571.8" cy="652.7" r="2.75"/>
<circle cx="572.2" cy="657.3" r="2.75"/>
<circle cx="572.6" cy="654.3" r="2.75"/>
<circle cx="573.1" cy="654.2" r="2.75"/>
<circle cx="573.5" cy="653.3" r="2.75"/>
<circle cx="573.9" cy="651.8" r="2.75"/>
<circle cx="574.3" cy="652.8" r="2.75"/>
<circle cx="574.8" cy="656.4" r="2.75"/>
<circle cx="575.2" cy="653.3" r="2.75"/>
<circle cx="575.6" cy="653.6" r="2.75"/>
<circle cx="576.0" cy="653.2" r="2.75"/>
<circle cx="576.5" cy="652.1" r="2.75"/>
<circle cx="576.9" cy="655.0" r="2.75"/>
<circle cx="577.3" cy="652.4" r="2.75"/>
<circle cx="577.7" cy="655.7" r="2.75"/>
<circle cx="578.2" cy="653.6" r="2.75"/>
<circle cx="578.6" cy="653.2" r="2.75"/>
<circle cx="579.0" cy="651.0" r="2.75"/>
<circle cx="579.4" cy="654.5" r="2.75"/>
<circle cx="579.9" cy="655.7" r="2.75"/>
<circle cx="580.3" cy="652.9" r="2.75"/>
<circle cx="580.7" cy="654.5" r="2.75"/>
<circle cx="581.1" cy="651.8" r="2.75"/>
<circle cx="581.6" cy="654.5" r="2.75"/>
<circle cx="582.0" cy="654.7" r="2.75"/>
<circle cx="582.4" cy="652.2" r="2.75"/>
<circle cx="582.8" cy="653.6" r="2.75"/>
<circle cx="583.3" cy="652.5" r="2.75"/>
<circle cx="583.7" cy="655.4" r="2.75"/>
<circle cx="584.1" cy="651.7" r="2.75"/>
<circle cx="584.5" cy="654.4" r="2.75"/>
<circle cx="585.0" cy="652.7" r="2.75"/>
<circle cx="585.4" cy="654.9" r="2.75"/>
<circle cx="585.8" cy="655.5" r="2.75"/>
<circle cx="586.2" cy="654.0" r="2.75"/>
<circle cx="586.7" cy="653.5" r="2.75"/>
<circle cx="587.1" cy="651.8" r="2.75"/>
<circle cx="587.5" cy="653.3" r="2.75"/>
<circle cx="587.9" cy="652.9" r="2.75"/>
<circle cx="588.4" cy="652.9" r="2.75"/>
<circle cx="588.8" cy="650.0" r="2.75"/>
<circle cx="589.2" cy="654.7" r="2.75"/>
<circle cx="589.6" cy="652.2" r="2.75"/>
<circle cx="590.1" cy="653.9" r="2.75"/>
<circle cx="590.5" cy="653.4" r="2.75"/>
<circle cx="590.9" cy="654.4" r="2.75"/>
<circle cx="591.3" cy="652.3" r="2.75"/>
<circle cx="591.8" cy="655.2" r="2.75"/>
<circle cx="592.2" cy="655.3" r="2.75"/>
<circle cx="592.6" cy="653.9" r="2.75"/>
<circle cx="593.0" cy="655.1" r="2.75"/>
<circle cx="593.5" cy="652.9" r="2.75"/>
<circle cx="593.9" cy="652.6" r="2.75"/>
<circle cx="594.3" cy="654.6" r="2.75"/>
<circle cx="594.7" cy="652.8" r="2.75"/>
<circle cx="595.2" cy="654.5" r="2.75"/>
<circle cx="595.6" cy="653.8" r="2.75"/>
<circle cx="596.0" cy="653.7" r="2.75"/>
<circle cx="596.4" cy="651.5" r="2.75"/>
<circle cx="596.9" cy="653.7" r="2.75"/>
<circle cx="597.3" cy="654.8" r="2.75"/>
<circle cx="597.7" cy="654.8" r="2.75"/>
<circle cx="598.2" cy="652.3" r="2.75"/>
<circle cx="598.6" cy="655.7" r="2.75"/>
<circle cx="599.0" cy="654.3" r="2.75"/>
<circle cx="599.4" cy="654.2" r="2.75"/>
<circle cx="599.9" cy="656.6" r="2.75"/>
<circle cx="600.3" cy="654.3" r="2.75"/>
<circle cx="600.7" cy="652.5" r="2.75"/>
<circle cx="601.1" cy="653.4" r="2.75"/>
<circle cx="601.6" cy="654.8" r="2.75"/>
<circle cx="602.0" cy="652.9" r="2.75"/>
<circle cx="602.4" cy="653.1" r="2.75"/>
<circle cx="602.8" cy="651.3" r="2.75"/>
<circle cx="603.3" cy="654.6" r="2.75"/>
<circle cx="603.7" cy="654.2" r="2.75"/>
<circle cx="604.1" cy="653.7" r="2.75"/>
<circle cx="604.5" cy="653.9" r="2.75"/>
<circle cx="605.0" cy="653.6" r="2.75"/>
<circle cx="605.4" cy="653.8" r="2.75"/>
<circle cx="605.8" cy="654.5" r="2.75"/>
<circle cx="606.2" cy="655.6" r="2.75"/>
<circle cx="606.7" cy="654.4" r="2.75"/>
<circle cx="607.1" cy="655.4" r="2.75"/>
<circle cx="607.5" cy="655.0" r="2.75"/>
<circle cx="607.9" cy="654.4" r="2.75"/>
<circle cx="608.4" cy="653.1" r="2.75"/>
<circle cx="608.8" cy="652.7" r="2.75"/>
<circle cx="609.2" cy="654.9" r="2.75"/>
<circle cx="609.6" cy="653.3" r="2.75"/>
<circle cx="610.1" cy="652.8" r="2.75"/>
<circle cx="610.5" cy="653.8" r="2.75"/>
<circle cx="610.9" cy="655.7" r="2.75"/>
<circle cx="611.3" cy="656.3" r="2.75"/>
<circle cx="611.8" cy="652.8" r="2.75"/>
<circle cx="612.2" cy="652.6" r="2.75"/>
<circle cx="612.6" cy="653.4" r="2.75"/>
<circle cx="613.0" cy="655.0" r="2.75"/>
<circle cx="613.5" cy="652.0" r="2.75"/>
<circle cx="613.9" cy="652.3" r="2.75"/>
<circle cx="614.3" cy="653.8" r="2.75"/>
<circle cx="614.7" cy="654.0" r="2.75"/>
<circle cx="615.2" cy="656.1" r="2.75"/>
<circle cx="615.6" cy="652.8" r="2.75"/>
<circle cx="616.0" cy="655.7" r="2.75"/>
<circle cx="616.4" cy="652.9" r="2.75"/>
<circle cx="616.9" cy="652.9" r="2.75"/>
<circle cx="617.3" cy="653.6" r="2.75"/>
<circle cx="617.7" cy="651.9" r="2.75"/>
<circle cx="618.1" cy="654.1" r="2.75"/>
<circle cx="618.6" cy="653.0" r="2.75"/>
<circle cx="619.0" cy="652.8" r="2.75"/>
<circle cx="619.4" cy="653.4" r="2.75"/>
<circle cx="619.8" cy="654.2" r="2.75"/>
<circle cx="620.3" cy="652.3" r="2.75"/>
<circle cx="620.7" cy="653.2" r="2.75"/>
<circle cx="621.1" cy="654.0" r="2.75"/>
<circle cx="621.5" cy="653.9" r="2.75"/>
<circle cx="622.0" cy="653.6" r="2.75"/>
<circle cx="622.4" cy="651.0" r="2.75"/>
<circle cx="622.8" cy="653.6" r="2.75"/>
<circle cx="623.2" cy="654.0" r="2.75"/>
<circle cx="623.7" cy="655.0" r="2.75"/>
<circle cx="624.1" cy="655.2" r="2.75"/>
<circle cx="624.5" cy="656.0" r="2.75"/>
<circle cx="625.0" cy="653.5" r="2.75"/>
<circle cx="625.4" cy="653.7" r="2.75"/>
<circle cx="625.8" cy="655.0" r="2.75"/>
<circle cx="626.2" cy="655.5" r="2.75"/>
<circle cx="626.7" cy="654.1" r="2.75"/>
<circle cx="627.1" cy="654.4" r="2.75"/>
<circle cx="627.5" cy="655.3" r="2.75"/>
<circle cx="627.9" cy="653.4" r="2.75"/>
<circle cx="628.4" cy="653.6" r="2.75"/>
<circle cx="628.8" cy="653.8" r="2.75"/>
<circle cx="629.2" cy="652.8" r="2.75"/>
<circle cx="629.6" cy="654.5" r="2.75"/>
<circle cx="630.1" cy="652.1" r="2.75"/>
<circle cx="630.5" cy="654.9" r="2.75"/>
<circle cx="630.9" cy="653.1" r="2.75"/>
<circle cx="631.3" cy="653.0" r="2.75"/>
<circle cx="631.8" cy="654.0" r="2.75"/>
<circle cx="632.2" cy="653.3" r="2.75"/>
<circle cx="632.6" cy="655.3" r="2.75"/>
<circle cx="633.0" cy="655.5" r="2.75"/>
<circle cx="633.5" cy="654.0" r="2.75"/>
<circle cx="633.9" cy="654.6" r="2.75"/>
<circle cx="634.3" cy="653.0" r="2.75"/>
<circle cx="634.7" cy="653.7" r="2.75"/>
<circle cx="635.2" cy="653.0" r="2.75"/>
<circle cx="635.6" cy="653.4" r="2.75"/>
<circle cx="636.0" cy="653.5" r="2.75"/>
<circle cx="636.4" cy="653.6" r="2.75"/>
<circle cx="636.9" cy="654.2" r="2.75"/>
<circle cx="637.3" cy="654.3" r="2.75"/>
<circle cx="637.7" cy="651.3" r="2.75"/>
<circle cx="638.1" cy="655.8" r="2.75"/>
<circle cx="638.6" cy="654.0" r="2.75"/>
<circle cx="639.0" cy="652.5" r="2.75"/>
<circle cx="639.4" cy="653.2" r="2.75"/>
<circle cx="639.8" cy="652.1" r="2.75"/>
<circle cx="640.3" cy="653.1" r="2.75"/>
<circle cx="640.7" cy="655.2" r="2.75"/>
<circle cx="641.1" cy="654.1" r="2.75"/>
<circle cx="641.5" cy="655.4" r="2.75"/>
<circle cx="642.0" cy="652.6" r="2.75"/>
<circle cx="642.4" cy="652.0" r="2.75"/>
<circle cx="642.8" cy="654.3" r="2.75"/>
<circle cx="643.2" cy="653.1" r="2.75"/>
<circle cx="643.7" cy="654.2" r="2.75"/>
<circle cx="644.1" cy="655.5" r="2.75"/>
<circle cx="644.5" cy="654.3" r="2.75"/>
<circle cx="644.9" cy="655.6" r="2.75"/>
<circle cx="645.4" cy="654.4" r="2.75"/>
<circle cx="645.8" cy="653.5" r="2.75"/>
<circle cx="646.2" cy="652.9" r="2.75"/>
<circle cx="646.6" cy="652.2" r="2.75"/>
<circle cx="647.1" cy="654.2" r="2.75"/>
<circle cx="647.5" cy="653.5" r="2.75"/>
<circle cx="647.9" cy="653.3" r="2.75"/>
<circle cx="648.3" cy="653.1" r="2.75"/>
<circle cx="648.8" cy="657.2" r="2.75"/>
<circle cx="649.2" cy="654.7" r="2.75"/>
<circle cx="649.6" cy="652.8" r="2.75"/>
<circle cx="650.0" cy="655.1" r="2.75"/>
<circle cx="650.5" cy="653.5" r="2.75"/>
<circle cx="650.9" cy="652.8" r="2.75"/>
<circle cx="651.3" cy="656.0" r="2.75"/>
<circle cx="651.8" cy="654.0" r="2.75"/>
<circle cx="652.2" cy="653.5" r="2.75"/>
<circle cx="652.6" cy="653.8" r="2.75"/>
<circle cx="653.0" cy="655.6" r="2.75"/>
<circle cx="653.5" cy="653.4" r="2.75"/>
<circle cx="653.9" cy="654.4" r="2.75"/>
<circle cx="654.3" cy="652.8" r="2.75"/>
<circle cx="654.7" cy="653.3" r="2.75"/>
<circle cx="655.2" cy="654.4" r="2.75"/>
<circle cx="655.6" cy="653.6" r="2.75"/>
<circle cx="656.0" cy="654.6" r="2.75"/>
<circle cx="656.4" cy="654.6" r="2.75"/>
<circle cx="656.9" cy="655.7" r="2.75"/>
<circle cx="657.3" cy="654.1" r="2.75"/>
<circle cx="657.7" cy="652.8" r="2.75"/>
<circle cx="658.1" cy="653.6" r="2.75"/>
<circle cx="658.6" cy="653.8" r="2.75"/>
<circle cx="659.0" cy="654.5" r="2.75"/>
<circle cx="659.4" cy="654.4" r="2.75"/>
<circle cx="659.8" cy="652.9" r="2.75"/>
<circle cx="660.3" cy="655.6" r="2.75"/>
<circle cx="660.7" cy="651.3" r="2.75"/>
<circle cx="661.1" cy="653.9" r="2.75"/>
<circle cx="661.5" cy="651.2" r="2.75"/>
<circle cx="662.0" cy="652.4" r="2.75"/>
<circle cx="662.4" cy="654.3" r="2.75"/>
<circle cx="662.8" cy="652.9" r="2.75"/>
<circle cx="663.2" cy="653.5" r="2.75"/>
<circle cx="663.7" cy="653.3" r="2.75"/>
<circle cx="664.1" cy="652.9" r="2.75"/>
<circle cx="664.5" cy="654.5" r="2.75"/>
<circle cx="664.9" cy="654.6" r="2.75"/>
<circle cx="665.4" cy="654.3" r="2.75"/>
<circle cx="665.8" cy="655.5" r="2.75"/>
<circle cx="666.2" cy="654.1" r="2.75"/>
<circle cx="666.6" cy="653.6" r="2.75"/>
<circle cx="667.1" cy="653.5" r="2.75"/>
<circle cx="667.5" cy="653.6" r="2.75"/>
<circle cx="667.9" cy="654.3" r="2.75"/>
<circle cx="668.3" cy="652.9" r="2.75"/>
<circle cx="668.8" cy="656.3" r="2.75"/>
<circle cx="669.2" cy="654.3" r="2.75"/>
<circle cx="669.6" cy="654.2" r="2.75"/>
<circle cx="670.0" cy="652.8" r="2.75"/>
<circle cx="670.5" cy="653.1" r="2.75"/>
<circle cx="670.9" cy="652.9" r="2.75"/>
<circle cx="671.3" cy="653.8" r="2.75"/>
<circle cx="671.7" cy="652.7" r="2.75"/>
<circle cx="672.2" cy="655.1" r="2.75"/>
<circle cx="672.6" cy="653.8" r="2.75"/>
<circle cx="673.0" cy="656.4" r="2.75"/>
<circle cx="673.4" cy="651.8" r="2.75"/>
<circle cx="673.9" cy="652.0" r="2.75"/>
<circle cx="674.3" cy="654.6" r="2.75"/>
<circle cx="674.7" cy="654.9" r="2.75"/>
<circle cx="675.1" cy="656.4" r="2.75"/>
<circle cx="675.6" cy="655.7" r="2.75"/>
<circle cx="676.0" cy="653.7" r="2.75"/>
<circle cx="676.4" cy="654.1" r="2.75"/>
<circle cx="676.8" cy="655.6" r="2.75"/>
<circle cx="677.3" cy="654.5" r="2.75"/>
<circle cx="677.7" cy="654.7" r="2.75"/>
<circle cx="678.1" cy="653.3" r="2.75"/>
<circle cx="678.6" cy="653.0" r="2.75"/>
<circle cx="679.0" cy="654.1" r="2.75"/>
<circle cx="679.4" cy="653.7" r="2.75"/>
<circle cx="679.8" cy="653.9" r="2.75"/>
<circle cx="680.3" cy="656.4" r="2.75"/>
<circle cx="680.7" cy="653.7" r="2.75"/>
<circle cx="681.1" cy="654.0" r="2.75"/>
<circle cx="681.5" cy="653.0" r="2.75"/>
<circle cx="682.0" cy="656.1" r="2.75"/>
<circle cx="682.4" cy="653.0" r="2.75"/>
<circle cx="682.8" cy="654.6" r="2.75"/>
<circle cx="683.2" cy="653.6" r="2.75"/>
<circle cx="683.7" cy="652.4" r="2.75"/>
<circle cx="684.1" cy="655.6" r="2.75"/>
<circle cx="684.5" cy="655.4" r="2.75"/>
<circle cx="684.9" cy="652.7" r="2.75"/>
<circle cx="685.4" cy="655.2" r="2.75"/>
<circle cx="685.8" cy="655.0" r="2.75"/>
<circle cx="686.2" cy="653.2" r="2.75"/>
<circle cx="686.6" cy="654.1" r="2.75"/>
<circle cx="687.1" cy="652.9" r="2.75"/>
<circle cx="687.5" cy="653.5" r="2.75"/>
<circle cx="687.9" cy="653.9" r="2.75"/>
<circle cx="688.3" cy="652.7" r="2.75"/>
<circle cx="688.8" cy="651.3" r="2.75"/>
<circle cx="689.2" cy="654.0" r="2.75"/>
<circle cx="689.6" cy="652.1" r="2.75"/>
<circle cx="690.0" cy="652.5" r="2.75"/>
<circle cx="690.5" cy="653.7" r="2.75"/>
<circle cx="690.9" cy="653.3" r="2.75"/>
<circle cx="691.3" cy="655.0" r="2.75"/>
<circle cx="691.7" cy="654.6" r="2.75"/>
<circle cx="692.2" cy="653.5" r="2.75"/>
<circle cx="692.6" cy="653.9" r="2.75"/>
<circle cx="693.0" cy="652.3" r="2.75"/>
<circle cx="693.4" cy="655.4" r="2.75"/>
<circle cx="693.9" cy="654.2" r="2.75"/>
<circle cx="694.3" cy="654.6" r="2.75"/>
<circle cx="694.7" cy="654.0" r="2.75"/>
<circle cx="695.1" cy="652.5" r="2.75"/>
<circle cx="695.6" cy="655.3" r="2.75"/>
<circle cx="696.0" cy="652.9" r="2.75"/>
<circle cx="696.4" cy="654.6" r="2.75"/>
<circle cx="696.8" cy="654.2" r="2.75"/>
<circle cx="697.3" cy="652.7" r="2.75"/>
<circle cx="697.7" cy="654.2" r="2.75"/>
<circle cx="698.1" cy="653.1" r="2.75"/>
<circle cx="698.5" cy="653.7" r="2.75"/>
<circle cx="699.0" cy="654.1" r="2.75"/>
<circle cx="699.4" cy="654.3" r="2.75"/>
<circle cx="699.8" cy="655.9" r="2.75"/>
<circle cx="700.2" cy="654.7" r="2.75"/>
<circle cx="700.7" cy="653.7" r="2.75"/>
<circle cx="701.1" cy="653.6" r="2.75"/>
<circle cx="701.5" cy="655.6" r="2.75"/>
<circle cx="701.9" cy="652.7" r="2.75"/>
<circle cx="702.4" cy="653.2" r="2.75"/>
<circle cx="702.8" cy="655.4" r="2.75"/>
<circle cx="703.2" cy="655.1" r="2.75"/>
<circle cx="703.6" cy="653.2" r="2.75"/>
<circle cx="704.1" cy="655.9" r="2.75"/>
<circle cx="704.5" cy="654.7" r="2.75"/>
<circle cx="704.9" cy="653.9" r="2.75"/>
<circle cx="705.4" cy="654.0" r="2.75"/>
<circle cx="705.8" cy="653.9" r="2.75"/>
<circle cx="706.2" cy="653.4" r="2.75"/>
<circle cx="706.6" cy="654.8" r="2.75"/>
<circle cx="707.1" cy="654.4" r="2.75"/>
<circle cx="707.5" cy="651.4" r="2.75"/>
<circle cx="707.9" cy="655.5" r="2.75"/>
<circle cx="708.3" cy="654.4" r="2.75"/>
<circle cx="708.8" cy="653.7" r="2.75"/>
<circle cx="709.2" cy="654.6" r="2.75"/>
<circle cx="709.6" cy="652.4" r="2.75"/>
<circle cx="710.0" cy="653.7" r="2.75"/>
<circle cx="710.5" cy="652.9" r="2.75"/>
<circle cx="710.9" cy="656.9" r="2.75"/>
<circle cx="711.3" cy="652.4" r="2.75"/>
<circle cx="711.7" cy="652.5" r="2.75"/>
<circle cx="712.2" cy="654.7" r="2.75"/>
<circle cx="712.6" cy="652.3" r="2.75"/>
<circle cx="713.0" cy="653.5" r="2.75"/>
<circle cx="713.4" cy="652.7" r="2.75"/>
<circle cx="713.9" cy="651.7" r="2.75"/>
<circle cx="714.3" cy="653.7" r="2.75"/>
<circle cx="714.7" cy="655.0" r="2.75"/>
<circle cx="715.1" cy="653.8" r="2.75"/>
<circle cx="715.6" cy="655.3" r="2.75"/>
<circle cx="716.0" cy="654.8" r="2.75"/>
<circle cx="716.4" cy="654.7" r="2.75"/>
<circle cx="716.8" cy="654.7" r="2.75"/>
<circle cx="717.3" cy="652.4" r="2.75"/>
<circle cx="717.7" cy="652.8" r="2.75"/>
<circle cx="718.1" cy="654.9" r="2.75"/>
<circle cx="670.7" cy="584.3" r="2.75"/>
<circle cx="676.4" cy="573.1" r="2.75"/>
</g>
<line x1="463.3" y1="514.9" x2="463.3" y2="690.1" stroke="#000" stroke-width="2.0" />
<line x1="459.7" y1="689.1" x2="721" y2="689.1" stroke="#000" stroke-width="2.0" />
<line x1="459.7" y1="515.9" x2="466.9" y2="515.9" stroke="#000" stroke-width="2.0" />
<text x="451.3" y="520.2" font-size="12.4" text-anchor="end" >1.1</text>
<line x1="459.7" y1="559.2" x2="466.9" y2="559.2" stroke="#000" stroke-width="2.0" />
<text x="451.3" y="563.5" font-size="12.4" text-anchor="end" >0.9</text>
<line x1="459.7" y1="602.5" x2="466.9" y2="602.5" stroke="#000" stroke-width="2.0" />
<text x="451.3" y="606.8" font-size="12.4" text-anchor="end" >0.7</text>
<line x1="459.7" y1="645.8" x2="466.9" y2="645.8" stroke="#000" stroke-width="2.0" />
<text x="451.3" y="650.1" font-size="12.4" text-anchor="end" >0.5</text>
<line x1="459.7" y1="689.1" x2="466.9" y2="689.1" stroke="#000" stroke-width="2.0" />
<text x="451.3" y="693.4" font-size="12.4" text-anchor="end" >0.3</text>
<line x1="463.3" y1="685.5" x2="463.3" y2="692.7" stroke="#000" stroke-width="2.0" />
<text x="463.3" y="708.3" font-size="12.4" text-anchor="middle" >0</text>
<line x1="527.48" y1="685.5" x2="527.48" y2="692.7" stroke="#000" stroke-width="2.0" />
<text x="527.48" y="708.3" font-size="12.4" text-anchor="middle" >340</text>
<line x1="591.65" y1="685.5" x2="591.65" y2="692.7" stroke="#000" stroke-width="2.0" />
<text x="591.65" y="708.3" font-size="12.4" text-anchor="middle" >680</text>
<line x1="655.83" y1="685.5" x2="655.83" y2="692.7" stroke="#000" stroke-width="2.0" />
<text x="655.83" y="708.3" font-size="12.4" text-anchor="middle" >1020</text>
<line x1="720" y1="685.5" x2="720" y2="692.7" stroke="#000" stroke-width="2.0" />
<text x="720" y="708.3" font-size="12.4" text-anchor="middle" >1360</text>
<text x="591.5" y="726" font-size="12.7" text-anchor="middle" >Well number</text>
<text transform="translate(428,602.4) rotate(-90)" font-size="12.7" text-anchor="middle">rFRET</text>
<text x="493" y="517.6" font-size="12.7" text-anchor="start" >SAM FRET pair</text>
<text x="608.8" y="517.6" font-size="12.7" text-anchor="start" >Z'-factor: 0.85</text>
<path d="M728.5,541.5 H732.1 V584.6 H728.5" fill="none" stroke="#000" stroke-width="1.9"/>
<text x="765.3" y="560.1" font-size="12.7" text-anchor="middle" >negative</text>
<text x="765.3" y="573.6" font-size="12.7" text-anchor="middle" >control</text>
<path d="M728.5,637.3 H732.1 V666.5 H728.5" fill="none" stroke="#000" stroke-width="1.9"/>
<text x="764.4" y="643.2" font-size="12.7" text-anchor="middle" >positive</text>
<text x="764.4" y="656.1" font-size="12.7" text-anchor="middle" >control</text>
<text x="764.4" y="669" font-size="12.7" text-anchor="middle" >(GdnHCl)</text>
</g>
</svg>
</body></html>
